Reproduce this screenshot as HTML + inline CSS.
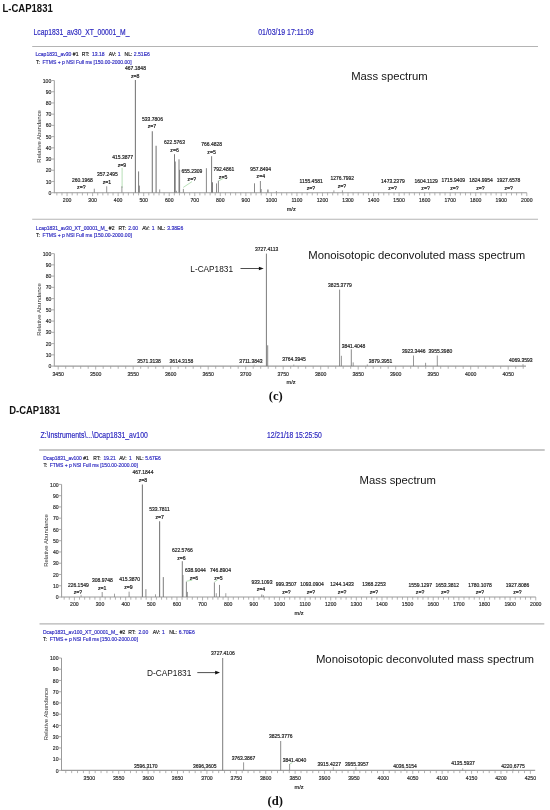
<!DOCTYPE html>
<html><head><meta charset="utf-8"><title>CAP1831 mass spectra</title>
<style>
html,body{margin:0;padding:0;background:#fff;width:550px;height:810px;overflow:hidden;}
svg{display:block;will-change:transform;font-family:"Liberation Sans",sans-serif;}
</style></head><body>
<svg width="550" height="810" viewBox="0 0 550 810">
<rect width="550" height="810" fill="#fff"/>
<text x="2.40" y="11.50" font-size="10.2" fill="#111" textLength="50.40" lengthAdjust="spacingAndGlyphs" font-weight="bold">L-CAP1831</text>
<text x="33.60" y="35.00" font-size="9.3" fill="#2e2ac0" textLength="95.80" lengthAdjust="spacingAndGlyphs" stroke="#2e2ac0" stroke-width="0.2">Lcap1831_av30_XT_00001_M_</text>
<text x="258.20" y="34.60" font-size="9.2" fill="#2e2ac0" textLength="55.40" lengthAdjust="spacingAndGlyphs" stroke="#2e2ac0" stroke-width="0.2">01/03/19 17:11:09</text>
<line x1="32.20" y1="46.50" x2="538.00" y2="46.50" stroke="#b4b4b4" stroke-width="1.1"/>
<text x="35.45" y="56.40" font-size="5.9" fill="#2e2ac0" textLength="36.00" lengthAdjust="spacingAndGlyphs" stroke="#2e2ac0" stroke-width="0.18">Lcap1831_av30</text>
<text x="72.85" y="56.40" font-size="5.9" fill="#1a1a1a" textLength="5.63" lengthAdjust="spacingAndGlyphs" stroke="#1a1a1a" stroke-width="0.18">#1</text>
<text x="81.85" y="56.40" font-size="5.9" fill="#1a1a1a" textLength="7.50" lengthAdjust="spacingAndGlyphs" stroke="#1a1a1a" stroke-width="0.18">RT:</text>
<text x="91.95" y="56.40" font-size="5.9" fill="#2e2ac0" textLength="12.66" lengthAdjust="spacingAndGlyphs" stroke="#2e2ac0" stroke-width="0.18">13.18</text>
<text x="108.85" y="56.40" font-size="5.9" fill="#1a1a1a" textLength="7.59" lengthAdjust="spacingAndGlyphs" stroke="#1a1a1a" stroke-width="0.18">AV:</text>
<text x="117.85" y="56.40" font-size="5.9" fill="#2e2ac0" textLength="2.81" lengthAdjust="spacingAndGlyphs" stroke="#2e2ac0" stroke-width="0.18">1</text>
<text x="124.55" y="56.40" font-size="5.9" fill="#1a1a1a" textLength="7.87" lengthAdjust="spacingAndGlyphs" stroke="#1a1a1a" stroke-width="0.18">NL:</text>
<text x="133.85" y="56.40" font-size="5.9" fill="#2e2ac0" textLength="16.03" lengthAdjust="spacingAndGlyphs" stroke="#2e2ac0" stroke-width="0.18">2.51E6</text>
<text x="36.00" y="63.60" font-size="5.9" fill="#1a1a1a" textLength="3.93" lengthAdjust="spacingAndGlyphs" stroke="#1a1a1a" stroke-width="0.18">T:</text>
<text x="42.55" y="63.60" font-size="5.9" fill="#2e2ac0" textLength="89.00" lengthAdjust="spacingAndGlyphs" stroke="#2e2ac0" stroke-width="0.18">FTMS + p NSI Full ms [150.00-2000.00]</text>
<text x="351.20" y="80.00" font-size="11.3" fill="#141414" textLength="76.50" lengthAdjust="spacingAndGlyphs">Mass spectrum</text>
<line x1="54.30" y1="80.50" x2="54.30" y2="193.20" stroke="#9a9a9a" stroke-width="1"/>
<line x1="51.70" y1="192.70" x2="54.30" y2="192.70" stroke="#9a9a9a" stroke-width="0.8"/>
<text x="51.30" y="194.80" font-size="5.9" fill="#2a2a2a" text-anchor="end" textLength="2.84" lengthAdjust="spacingAndGlyphs" stroke="#2a2a2a" stroke-width="0.18">0</text>
<line x1="51.70" y1="181.48" x2="54.30" y2="181.48" stroke="#9a9a9a" stroke-width="0.8"/>
<text x="51.30" y="183.58" font-size="5.9" fill="#2a2a2a" text-anchor="end" textLength="5.67" lengthAdjust="spacingAndGlyphs" stroke="#2a2a2a" stroke-width="0.18">10</text>
<line x1="51.70" y1="170.26" x2="54.30" y2="170.26" stroke="#9a9a9a" stroke-width="0.8"/>
<text x="51.30" y="172.36" font-size="5.9" fill="#2a2a2a" text-anchor="end" textLength="5.67" lengthAdjust="spacingAndGlyphs" stroke="#2a2a2a" stroke-width="0.18">20</text>
<line x1="51.70" y1="159.04" x2="54.30" y2="159.04" stroke="#9a9a9a" stroke-width="0.8"/>
<text x="51.30" y="161.14" font-size="5.9" fill="#2a2a2a" text-anchor="end" textLength="5.67" lengthAdjust="spacingAndGlyphs" stroke="#2a2a2a" stroke-width="0.18">30</text>
<line x1="51.70" y1="147.82" x2="54.30" y2="147.82" stroke="#9a9a9a" stroke-width="0.8"/>
<text x="51.30" y="149.92" font-size="5.9" fill="#2a2a2a" text-anchor="end" textLength="5.67" lengthAdjust="spacingAndGlyphs" stroke="#2a2a2a" stroke-width="0.18">40</text>
<line x1="51.70" y1="136.60" x2="54.30" y2="136.60" stroke="#9a9a9a" stroke-width="0.8"/>
<text x="51.30" y="138.70" font-size="5.9" fill="#2a2a2a" text-anchor="end" textLength="5.67" lengthAdjust="spacingAndGlyphs" stroke="#2a2a2a" stroke-width="0.18">50</text>
<line x1="51.70" y1="125.38" x2="54.30" y2="125.38" stroke="#9a9a9a" stroke-width="0.8"/>
<text x="51.30" y="127.48" font-size="5.9" fill="#2a2a2a" text-anchor="end" textLength="5.67" lengthAdjust="spacingAndGlyphs" stroke="#2a2a2a" stroke-width="0.18">60</text>
<line x1="51.70" y1="114.16" x2="54.30" y2="114.16" stroke="#9a9a9a" stroke-width="0.8"/>
<text x="51.30" y="116.26" font-size="5.9" fill="#2a2a2a" text-anchor="end" textLength="5.67" lengthAdjust="spacingAndGlyphs" stroke="#2a2a2a" stroke-width="0.18">70</text>
<line x1="51.70" y1="102.94" x2="54.30" y2="102.94" stroke="#9a9a9a" stroke-width="0.8"/>
<text x="51.30" y="105.04" font-size="5.9" fill="#2a2a2a" text-anchor="end" textLength="5.67" lengthAdjust="spacingAndGlyphs" stroke="#2a2a2a" stroke-width="0.18">80</text>
<line x1="51.70" y1="91.72" x2="54.30" y2="91.72" stroke="#9a9a9a" stroke-width="0.8"/>
<text x="51.30" y="93.82" font-size="5.9" fill="#2a2a2a" text-anchor="end" textLength="5.67" lengthAdjust="spacingAndGlyphs" stroke="#2a2a2a" stroke-width="0.18">90</text>
<line x1="51.70" y1="80.50" x2="54.30" y2="80.50" stroke="#9a9a9a" stroke-width="0.8"/>
<text x="51.30" y="82.60" font-size="5.9" fill="#2a2a2a" text-anchor="end" textLength="8.51" lengthAdjust="spacingAndGlyphs" stroke="#2a2a2a" stroke-width="0.18">100</text>
<line x1="54.30" y1="192.70" x2="526.80" y2="192.70" stroke="#9a9a9a" stroke-width="1.1"/>
<line x1="56.85" y1="192.70" x2="56.85" y2="195.40" stroke="#9a9a9a" stroke-width="0.75"/>
<line x1="61.96" y1="192.70" x2="61.96" y2="195.40" stroke="#9a9a9a" stroke-width="0.75"/>
<line x1="67.07" y1="192.70" x2="67.07" y2="196.10" stroke="#9a9a9a" stroke-width="0.75"/>
<line x1="72.18" y1="192.70" x2="72.18" y2="195.40" stroke="#9a9a9a" stroke-width="0.75"/>
<line x1="77.29" y1="192.70" x2="77.29" y2="195.40" stroke="#9a9a9a" stroke-width="0.75"/>
<line x1="82.39" y1="192.70" x2="82.39" y2="195.40" stroke="#9a9a9a" stroke-width="0.75"/>
<line x1="87.50" y1="192.70" x2="87.50" y2="195.40" stroke="#9a9a9a" stroke-width="0.75"/>
<line x1="92.61" y1="192.70" x2="92.61" y2="196.10" stroke="#9a9a9a" stroke-width="0.75"/>
<line x1="97.72" y1="192.70" x2="97.72" y2="195.40" stroke="#9a9a9a" stroke-width="0.75"/>
<line x1="102.83" y1="192.70" x2="102.83" y2="195.40" stroke="#9a9a9a" stroke-width="0.75"/>
<line x1="107.94" y1="192.70" x2="107.94" y2="195.40" stroke="#9a9a9a" stroke-width="0.75"/>
<line x1="113.04" y1="192.70" x2="113.04" y2="195.40" stroke="#9a9a9a" stroke-width="0.75"/>
<line x1="118.15" y1="192.70" x2="118.15" y2="196.10" stroke="#9a9a9a" stroke-width="0.75"/>
<line x1="123.26" y1="192.70" x2="123.26" y2="195.40" stroke="#9a9a9a" stroke-width="0.75"/>
<line x1="128.37" y1="192.70" x2="128.37" y2="195.40" stroke="#9a9a9a" stroke-width="0.75"/>
<line x1="133.48" y1="192.70" x2="133.48" y2="195.40" stroke="#9a9a9a" stroke-width="0.75"/>
<line x1="138.58" y1="192.70" x2="138.58" y2="195.40" stroke="#9a9a9a" stroke-width="0.75"/>
<line x1="143.69" y1="192.70" x2="143.69" y2="196.10" stroke="#9a9a9a" stroke-width="0.75"/>
<line x1="148.80" y1="192.70" x2="148.80" y2="195.40" stroke="#9a9a9a" stroke-width="0.75"/>
<line x1="153.91" y1="192.70" x2="153.91" y2="195.40" stroke="#9a9a9a" stroke-width="0.75"/>
<line x1="159.02" y1="192.70" x2="159.02" y2="195.40" stroke="#9a9a9a" stroke-width="0.75"/>
<line x1="164.12" y1="192.70" x2="164.12" y2="195.40" stroke="#9a9a9a" stroke-width="0.75"/>
<line x1="169.23" y1="192.70" x2="169.23" y2="196.10" stroke="#9a9a9a" stroke-width="0.75"/>
<line x1="174.34" y1="192.70" x2="174.34" y2="195.40" stroke="#9a9a9a" stroke-width="0.75"/>
<line x1="179.45" y1="192.70" x2="179.45" y2="195.40" stroke="#9a9a9a" stroke-width="0.75"/>
<line x1="184.56" y1="192.70" x2="184.56" y2="195.40" stroke="#9a9a9a" stroke-width="0.75"/>
<line x1="189.66" y1="192.70" x2="189.66" y2="195.40" stroke="#9a9a9a" stroke-width="0.75"/>
<line x1="194.77" y1="192.70" x2="194.77" y2="196.10" stroke="#9a9a9a" stroke-width="0.75"/>
<line x1="199.88" y1="192.70" x2="199.88" y2="195.40" stroke="#9a9a9a" stroke-width="0.75"/>
<line x1="204.99" y1="192.70" x2="204.99" y2="195.40" stroke="#9a9a9a" stroke-width="0.75"/>
<line x1="210.10" y1="192.70" x2="210.10" y2="195.40" stroke="#9a9a9a" stroke-width="0.75"/>
<line x1="215.21" y1="192.70" x2="215.21" y2="195.40" stroke="#9a9a9a" stroke-width="0.75"/>
<line x1="220.31" y1="192.70" x2="220.31" y2="196.10" stroke="#9a9a9a" stroke-width="0.75"/>
<line x1="225.42" y1="192.70" x2="225.42" y2="195.40" stroke="#9a9a9a" stroke-width="0.75"/>
<line x1="230.53" y1="192.70" x2="230.53" y2="195.40" stroke="#9a9a9a" stroke-width="0.75"/>
<line x1="235.64" y1="192.70" x2="235.64" y2="195.40" stroke="#9a9a9a" stroke-width="0.75"/>
<line x1="240.75" y1="192.70" x2="240.75" y2="195.40" stroke="#9a9a9a" stroke-width="0.75"/>
<line x1="245.85" y1="192.70" x2="245.85" y2="196.10" stroke="#9a9a9a" stroke-width="0.75"/>
<line x1="250.96" y1="192.70" x2="250.96" y2="195.40" stroke="#9a9a9a" stroke-width="0.75"/>
<line x1="256.07" y1="192.70" x2="256.07" y2="195.40" stroke="#9a9a9a" stroke-width="0.75"/>
<line x1="261.18" y1="192.70" x2="261.18" y2="195.40" stroke="#9a9a9a" stroke-width="0.75"/>
<line x1="266.29" y1="192.70" x2="266.29" y2="195.40" stroke="#9a9a9a" stroke-width="0.75"/>
<line x1="271.39" y1="192.70" x2="271.39" y2="196.10" stroke="#9a9a9a" stroke-width="0.75"/>
<line x1="276.50" y1="192.70" x2="276.50" y2="195.40" stroke="#9a9a9a" stroke-width="0.75"/>
<line x1="281.61" y1="192.70" x2="281.61" y2="195.40" stroke="#9a9a9a" stroke-width="0.75"/>
<line x1="286.72" y1="192.70" x2="286.72" y2="195.40" stroke="#9a9a9a" stroke-width="0.75"/>
<line x1="291.83" y1="192.70" x2="291.83" y2="195.40" stroke="#9a9a9a" stroke-width="0.75"/>
<line x1="296.94" y1="192.70" x2="296.94" y2="196.10" stroke="#9a9a9a" stroke-width="0.75"/>
<line x1="302.04" y1="192.70" x2="302.04" y2="195.40" stroke="#9a9a9a" stroke-width="0.75"/>
<line x1="307.15" y1="192.70" x2="307.15" y2="195.40" stroke="#9a9a9a" stroke-width="0.75"/>
<line x1="312.26" y1="192.70" x2="312.26" y2="195.40" stroke="#9a9a9a" stroke-width="0.75"/>
<line x1="317.37" y1="192.70" x2="317.37" y2="195.40" stroke="#9a9a9a" stroke-width="0.75"/>
<line x1="322.48" y1="192.70" x2="322.48" y2="196.10" stroke="#9a9a9a" stroke-width="0.75"/>
<line x1="327.58" y1="192.70" x2="327.58" y2="195.40" stroke="#9a9a9a" stroke-width="0.75"/>
<line x1="332.69" y1="192.70" x2="332.69" y2="195.40" stroke="#9a9a9a" stroke-width="0.75"/>
<line x1="337.80" y1="192.70" x2="337.80" y2="195.40" stroke="#9a9a9a" stroke-width="0.75"/>
<line x1="342.91" y1="192.70" x2="342.91" y2="195.40" stroke="#9a9a9a" stroke-width="0.75"/>
<line x1="348.02" y1="192.70" x2="348.02" y2="196.10" stroke="#9a9a9a" stroke-width="0.75"/>
<line x1="353.12" y1="192.70" x2="353.12" y2="195.40" stroke="#9a9a9a" stroke-width="0.75"/>
<line x1="358.23" y1="192.70" x2="358.23" y2="195.40" stroke="#9a9a9a" stroke-width="0.75"/>
<line x1="363.34" y1="192.70" x2="363.34" y2="195.40" stroke="#9a9a9a" stroke-width="0.75"/>
<line x1="368.45" y1="192.70" x2="368.45" y2="195.40" stroke="#9a9a9a" stroke-width="0.75"/>
<line x1="373.56" y1="192.70" x2="373.56" y2="196.10" stroke="#9a9a9a" stroke-width="0.75"/>
<line x1="378.66" y1="192.70" x2="378.66" y2="195.40" stroke="#9a9a9a" stroke-width="0.75"/>
<line x1="383.77" y1="192.70" x2="383.77" y2="195.40" stroke="#9a9a9a" stroke-width="0.75"/>
<line x1="388.88" y1="192.70" x2="388.88" y2="195.40" stroke="#9a9a9a" stroke-width="0.75"/>
<line x1="393.99" y1="192.70" x2="393.99" y2="195.40" stroke="#9a9a9a" stroke-width="0.75"/>
<line x1="399.10" y1="192.70" x2="399.10" y2="196.10" stroke="#9a9a9a" stroke-width="0.75"/>
<line x1="404.21" y1="192.70" x2="404.21" y2="195.40" stroke="#9a9a9a" stroke-width="0.75"/>
<line x1="409.31" y1="192.70" x2="409.31" y2="195.40" stroke="#9a9a9a" stroke-width="0.75"/>
<line x1="414.42" y1="192.70" x2="414.42" y2="195.40" stroke="#9a9a9a" stroke-width="0.75"/>
<line x1="419.53" y1="192.70" x2="419.53" y2="195.40" stroke="#9a9a9a" stroke-width="0.75"/>
<line x1="424.64" y1="192.70" x2="424.64" y2="196.10" stroke="#9a9a9a" stroke-width="0.75"/>
<line x1="429.75" y1="192.70" x2="429.75" y2="195.40" stroke="#9a9a9a" stroke-width="0.75"/>
<line x1="434.85" y1="192.70" x2="434.85" y2="195.40" stroke="#9a9a9a" stroke-width="0.75"/>
<line x1="439.96" y1="192.70" x2="439.96" y2="195.40" stroke="#9a9a9a" stroke-width="0.75"/>
<line x1="445.07" y1="192.70" x2="445.07" y2="195.40" stroke="#9a9a9a" stroke-width="0.75"/>
<line x1="450.18" y1="192.70" x2="450.18" y2="196.10" stroke="#9a9a9a" stroke-width="0.75"/>
<line x1="455.29" y1="192.70" x2="455.29" y2="195.40" stroke="#9a9a9a" stroke-width="0.75"/>
<line x1="460.39" y1="192.70" x2="460.39" y2="195.40" stroke="#9a9a9a" stroke-width="0.75"/>
<line x1="465.50" y1="192.70" x2="465.50" y2="195.40" stroke="#9a9a9a" stroke-width="0.75"/>
<line x1="470.61" y1="192.70" x2="470.61" y2="195.40" stroke="#9a9a9a" stroke-width="0.75"/>
<line x1="475.72" y1="192.70" x2="475.72" y2="196.10" stroke="#9a9a9a" stroke-width="0.75"/>
<line x1="480.83" y1="192.70" x2="480.83" y2="195.40" stroke="#9a9a9a" stroke-width="0.75"/>
<line x1="485.94" y1="192.70" x2="485.94" y2="195.40" stroke="#9a9a9a" stroke-width="0.75"/>
<line x1="491.04" y1="192.70" x2="491.04" y2="195.40" stroke="#9a9a9a" stroke-width="0.75"/>
<line x1="496.15" y1="192.70" x2="496.15" y2="195.40" stroke="#9a9a9a" stroke-width="0.75"/>
<line x1="501.26" y1="192.70" x2="501.26" y2="196.10" stroke="#9a9a9a" stroke-width="0.75"/>
<line x1="506.37" y1="192.70" x2="506.37" y2="195.40" stroke="#9a9a9a" stroke-width="0.75"/>
<line x1="511.48" y1="192.70" x2="511.48" y2="195.40" stroke="#9a9a9a" stroke-width="0.75"/>
<line x1="516.58" y1="192.70" x2="516.58" y2="195.40" stroke="#9a9a9a" stroke-width="0.75"/>
<line x1="521.69" y1="192.70" x2="521.69" y2="195.40" stroke="#9a9a9a" stroke-width="0.75"/>
<line x1="526.80" y1="192.70" x2="526.80" y2="196.10" stroke="#9a9a9a" stroke-width="0.75"/>
<text x="67.07" y="202.30" font-size="5.9" fill="#2a2a2a" text-anchor="middle" textLength="8.59" lengthAdjust="spacingAndGlyphs" stroke="#2a2a2a" stroke-width="0.18">200</text>
<text x="92.61" y="202.30" font-size="5.9" fill="#2a2a2a" text-anchor="middle" textLength="8.59" lengthAdjust="spacingAndGlyphs" stroke="#2a2a2a" stroke-width="0.18">300</text>
<text x="118.15" y="202.30" font-size="5.9" fill="#2a2a2a" text-anchor="middle" textLength="8.59" lengthAdjust="spacingAndGlyphs" stroke="#2a2a2a" stroke-width="0.18">400</text>
<text x="143.69" y="202.30" font-size="5.9" fill="#2a2a2a" text-anchor="middle" textLength="8.59" lengthAdjust="spacingAndGlyphs" stroke="#2a2a2a" stroke-width="0.18">500</text>
<text x="169.23" y="202.30" font-size="5.9" fill="#2a2a2a" text-anchor="middle" textLength="8.59" lengthAdjust="spacingAndGlyphs" stroke="#2a2a2a" stroke-width="0.18">600</text>
<text x="194.77" y="202.30" font-size="5.9" fill="#2a2a2a" text-anchor="middle" textLength="8.59" lengthAdjust="spacingAndGlyphs" stroke="#2a2a2a" stroke-width="0.18">700</text>
<text x="220.31" y="202.30" font-size="5.9" fill="#2a2a2a" text-anchor="middle" textLength="8.59" lengthAdjust="spacingAndGlyphs" stroke="#2a2a2a" stroke-width="0.18">800</text>
<text x="245.85" y="202.30" font-size="5.9" fill="#2a2a2a" text-anchor="middle" textLength="8.59" lengthAdjust="spacingAndGlyphs" stroke="#2a2a2a" stroke-width="0.18">900</text>
<text x="271.39" y="202.30" font-size="5.9" fill="#2a2a2a" text-anchor="middle" textLength="11.46" lengthAdjust="spacingAndGlyphs" stroke="#2a2a2a" stroke-width="0.18">1000</text>
<text x="296.94" y="202.30" font-size="5.9" fill="#2a2a2a" text-anchor="middle" textLength="11.07" lengthAdjust="spacingAndGlyphs" stroke="#2a2a2a" stroke-width="0.18">1100</text>
<text x="322.48" y="202.30" font-size="5.9" fill="#2a2a2a" text-anchor="middle" textLength="11.46" lengthAdjust="spacingAndGlyphs" stroke="#2a2a2a" stroke-width="0.18">1200</text>
<text x="348.02" y="202.30" font-size="5.9" fill="#2a2a2a" text-anchor="middle" textLength="11.46" lengthAdjust="spacingAndGlyphs" stroke="#2a2a2a" stroke-width="0.18">1300</text>
<text x="373.56" y="202.30" font-size="5.9" fill="#2a2a2a" text-anchor="middle" textLength="11.46" lengthAdjust="spacingAndGlyphs" stroke="#2a2a2a" stroke-width="0.18">1400</text>
<text x="399.10" y="202.30" font-size="5.9" fill="#2a2a2a" text-anchor="middle" textLength="11.46" lengthAdjust="spacingAndGlyphs" stroke="#2a2a2a" stroke-width="0.18">1500</text>
<text x="424.64" y="202.30" font-size="5.9" fill="#2a2a2a" text-anchor="middle" textLength="11.46" lengthAdjust="spacingAndGlyphs" stroke="#2a2a2a" stroke-width="0.18">1600</text>
<text x="450.18" y="202.30" font-size="5.9" fill="#2a2a2a" text-anchor="middle" textLength="11.46" lengthAdjust="spacingAndGlyphs" stroke="#2a2a2a" stroke-width="0.18">1700</text>
<text x="475.72" y="202.30" font-size="5.9" fill="#2a2a2a" text-anchor="middle" textLength="11.46" lengthAdjust="spacingAndGlyphs" stroke="#2a2a2a" stroke-width="0.18">1800</text>
<text x="501.26" y="202.30" font-size="5.9" fill="#2a2a2a" text-anchor="middle" textLength="11.46" lengthAdjust="spacingAndGlyphs" stroke="#2a2a2a" stroke-width="0.18">1900</text>
<text x="526.80" y="202.30" font-size="5.9" fill="#2a2a2a" text-anchor="middle" textLength="11.46" lengthAdjust="spacingAndGlyphs" stroke="#2a2a2a" stroke-width="0.18">2000</text>
<text x="291.20" y="211.20" font-size="5.6" fill="#222" text-anchor="middle" stroke="#222" stroke-width="0.18">m/z</text>
<text x="0" y="0" font-size="5.9" fill="#333" text-anchor="middle" textLength="52.5" lengthAdjust="spacingAndGlyphs" transform="translate(41.20,136.40) rotate(-90)">Relative Abundance</text>
<line x1="122.10" y1="167.80" x2="122.10" y2="188.00" stroke="#a6d8a6" stroke-width="0.8"/>
<line x1="183.30" y1="187.40" x2="192.00" y2="181.60" stroke="#a6d8a6" stroke-width="0.8"/>
<line x1="218.50" y1="181.00" x2="223.60" y2="178.20" stroke="#a6d8a6" stroke-width="0.8"/>
<line x1="94.30" y1="188.70" x2="94.30" y2="192.70" stroke="#7c7c7c" stroke-width="0.8"/>
<line x1="106.70" y1="186.30" x2="106.70" y2="192.70" stroke="#7c7c7c" stroke-width="0.8"/>
<line x1="121.90" y1="186.30" x2="121.90" y2="192.70" stroke="#7c7c7c" stroke-width="0.8"/>
<line x1="135.40" y1="80.00" x2="135.40" y2="192.70" stroke="#7c7c7c" stroke-width="1.1"/>
<line x1="138.60" y1="171.40" x2="138.60" y2="192.70" stroke="#7c7c7c" stroke-width="1.0"/>
<line x1="139.30" y1="185.60" x2="139.30" y2="192.70" stroke="#7c7c7c" stroke-width="1.0"/>
<line x1="152.30" y1="131.20" x2="152.30" y2="192.70" stroke="#7c7c7c" stroke-width="1.1"/>
<line x1="156.10" y1="145.80" x2="156.10" y2="192.70" stroke="#7c7c7c" stroke-width="1.1"/>
<line x1="159.70" y1="189.40" x2="159.70" y2="192.70" stroke="#7c7c7c" stroke-width="0.8"/>
<line x1="174.50" y1="154.20" x2="174.50" y2="192.70" stroke="#7c7c7c" stroke-width="1.0"/>
<line x1="175.20" y1="161.50" x2="175.20" y2="192.70" stroke="#7c7c7c" stroke-width="1.0"/>
<line x1="176.50" y1="190.80" x2="176.50" y2="192.70" stroke="#7c7c7c" stroke-width="0.7"/>
<line x1="179.00" y1="159.30" x2="179.00" y2="192.70" stroke="#7c7c7c" stroke-width="1.0"/>
<line x1="179.60" y1="169.80" x2="179.60" y2="192.70" stroke="#7c7c7c" stroke-width="1.0"/>
<line x1="183.40" y1="188.90" x2="183.40" y2="192.70" stroke="#7c7c7c" stroke-width="0.8"/>
<line x1="206.40" y1="168.20" x2="206.40" y2="192.70" stroke="#7c7c7c" stroke-width="0.9"/>
<line x1="211.60" y1="156.20" x2="211.60" y2="192.70" stroke="#7c7c7c" stroke-width="1.0"/>
<line x1="212.40" y1="182.30" x2="212.40" y2="192.70" stroke="#7c7c7c" stroke-width="1.2"/>
<line x1="216.50" y1="183.40" x2="216.50" y2="192.70" stroke="#7c7c7c" stroke-width="0.9"/>
<line x1="218.40" y1="180.70" x2="218.40" y2="192.70" stroke="#7c7c7c" stroke-width="0.9"/>
<line x1="254.50" y1="183.30" x2="254.50" y2="192.70" stroke="#7c7c7c" stroke-width="0.9"/>
<line x1="260.40" y1="181.00" x2="260.40" y2="192.70" stroke="#7c7c7c" stroke-width="0.9"/>
<line x1="261.20" y1="189.00" x2="261.20" y2="192.70" stroke="#7c7c7c" stroke-width="0.8"/>
<line x1="267.90" y1="189.60" x2="267.90" y2="192.70" stroke="#7c7c7c" stroke-width="1.2"/>
<line x1="276.40" y1="191.00" x2="276.40" y2="192.70" stroke="#7c7c7c" stroke-width="0.7"/>
<line x1="333.90" y1="190.30" x2="333.90" y2="192.70" stroke="#7c7c7c" stroke-width="0.7"/>
<line x1="342.40" y1="190.30" x2="342.40" y2="192.70" stroke="#7c7c7c" stroke-width="0.7"/>
<text x="82.40" y="182.10" font-size="5.2" fill="#222" text-anchor="middle" textLength="20.85" lengthAdjust="spacingAndGlyphs" stroke="#222" stroke-width="0.18">260.1968</text>
<text x="81.30" y="189.30" font-size="5.2" fill="#222" text-anchor="middle" stroke="#222" stroke-width="0.18">z=?</text>
<text x="107.30" y="176.40" font-size="5.2" fill="#222" text-anchor="middle" textLength="20.85" lengthAdjust="spacingAndGlyphs" stroke="#222" stroke-width="0.18">357.2495</text>
<text x="107.00" y="183.80" font-size="5.2" fill="#222" text-anchor="middle" stroke="#222" stroke-width="0.18">z=1</text>
<text x="122.60" y="159.20" font-size="5.2" fill="#222" text-anchor="middle" textLength="20.85" lengthAdjust="spacingAndGlyphs" stroke="#222" stroke-width="0.18">415.3877</text>
<text x="122.00" y="166.70" font-size="5.2" fill="#222" text-anchor="middle" stroke="#222" stroke-width="0.18">z=9</text>
<text x="135.50" y="70.20" font-size="5.2" fill="#222" text-anchor="middle" textLength="20.85" lengthAdjust="spacingAndGlyphs" stroke="#222" stroke-width="0.18">467.1848</text>
<text x="135.20" y="78.20" font-size="5.2" fill="#222" text-anchor="middle" stroke="#222" stroke-width="0.18">z=8</text>
<text x="152.50" y="120.90" font-size="5.2" fill="#222" text-anchor="middle" textLength="20.85" lengthAdjust="spacingAndGlyphs" stroke="#222" stroke-width="0.18">533.7806</text>
<text x="152.00" y="128.20" font-size="5.2" fill="#222" text-anchor="middle" stroke="#222" stroke-width="0.18">z=7</text>
<text x="174.50" y="144.30" font-size="5.2" fill="#222" text-anchor="middle" textLength="20.85" lengthAdjust="spacingAndGlyphs" stroke="#222" stroke-width="0.18">622.5763</text>
<text x="174.60" y="152.20" font-size="5.2" fill="#222" text-anchor="middle" stroke="#222" stroke-width="0.18">z=6</text>
<text x="191.90" y="173.00" font-size="5.2" fill="#222" text-anchor="middle" textLength="20.85" lengthAdjust="spacingAndGlyphs" stroke="#222" stroke-width="0.18">655.2309</text>
<text x="191.80" y="180.80" font-size="5.2" fill="#222" text-anchor="middle" stroke="#222" stroke-width="0.18">z=?</text>
<text x="211.70" y="146.00" font-size="5.2" fill="#222" text-anchor="middle" textLength="20.85" lengthAdjust="spacingAndGlyphs" stroke="#222" stroke-width="0.18">766.4828</text>
<text x="211.60" y="153.60" font-size="5.2" fill="#222" text-anchor="middle" stroke="#222" stroke-width="0.18">z=5</text>
<text x="223.80" y="170.80" font-size="5.2" fill="#222" text-anchor="middle" textLength="20.85" lengthAdjust="spacingAndGlyphs" stroke="#222" stroke-width="0.18">792.4861</text>
<text x="223.10" y="178.70" font-size="5.2" fill="#222" text-anchor="middle" stroke="#222" stroke-width="0.18">z=5</text>
<text x="260.70" y="171.10" font-size="5.2" fill="#222" text-anchor="middle" textLength="20.85" lengthAdjust="spacingAndGlyphs" stroke="#222" stroke-width="0.18">957.8494</text>
<text x="260.80" y="178.40" font-size="5.2" fill="#222" text-anchor="middle" stroke="#222" stroke-width="0.18">z=4</text>
<text x="311.10" y="182.50" font-size="5.2" fill="#222" text-anchor="middle" textLength="23.26" lengthAdjust="spacingAndGlyphs" stroke="#222" stroke-width="0.18">1155.4581</text>
<text x="311.00" y="189.80" font-size="5.2" fill="#222" text-anchor="middle" stroke="#222" stroke-width="0.18">z=?</text>
<text x="342.20" y="179.70" font-size="5.2" fill="#222" text-anchor="middle" textLength="23.63" lengthAdjust="spacingAndGlyphs" stroke="#222" stroke-width="0.18">1276.7992</text>
<text x="342.00" y="187.60" font-size="5.2" fill="#222" text-anchor="middle" stroke="#222" stroke-width="0.18">z=?</text>
<text x="392.90" y="182.50" font-size="5.2" fill="#222" text-anchor="middle" textLength="23.63" lengthAdjust="spacingAndGlyphs" stroke="#222" stroke-width="0.18">1473.2379</text>
<text x="392.60" y="189.80" font-size="5.2" fill="#222" text-anchor="middle" stroke="#222" stroke-width="0.18">z=?</text>
<text x="426.20" y="182.70" font-size="5.2" fill="#222" text-anchor="middle" textLength="23.26" lengthAdjust="spacingAndGlyphs" stroke="#222" stroke-width="0.18">1604.1129</text>
<text x="425.60" y="190.00" font-size="5.2" fill="#222" text-anchor="middle" stroke="#222" stroke-width="0.18">z=?</text>
<text x="453.20" y="182.30" font-size="5.2" fill="#222" text-anchor="middle" textLength="23.63" lengthAdjust="spacingAndGlyphs" stroke="#222" stroke-width="0.18">1715.9409</text>
<text x="454.50" y="190.20" font-size="5.2" fill="#222" text-anchor="middle" stroke="#222" stroke-width="0.18">z=?</text>
<text x="481.10" y="182.30" font-size="5.2" fill="#222" text-anchor="middle" textLength="23.63" lengthAdjust="spacingAndGlyphs" stroke="#222" stroke-width="0.18">1824.9954</text>
<text x="480.40" y="190.20" font-size="5.2" fill="#222" text-anchor="middle" stroke="#222" stroke-width="0.18">z=?</text>
<text x="508.60" y="182.30" font-size="5.2" fill="#222" text-anchor="middle" textLength="23.63" lengthAdjust="spacingAndGlyphs" stroke="#222" stroke-width="0.18">1927.6578</text>
<text x="508.70" y="190.20" font-size="5.2" fill="#222" text-anchor="middle" stroke="#222" stroke-width="0.18">z=?</text>
<line x1="32.20" y1="219.30" x2="538.00" y2="219.30" stroke="#b4b4b4" stroke-width="1.1"/>
<text x="35.85" y="229.50" font-size="5.9" fill="#2e2ac0" textLength="71.70" lengthAdjust="spacingAndGlyphs" stroke="#2e2ac0" stroke-width="0.18">Lcap1831_av30_XT_00001_M_</text>
<text x="108.85" y="229.50" font-size="5.9" fill="#1a1a1a" textLength="5.60" lengthAdjust="spacingAndGlyphs" stroke="#1a1a1a" stroke-width="0.18">#2</text>
<text x="118.55" y="229.50" font-size="5.9" fill="#1a1a1a" textLength="7.47" lengthAdjust="spacingAndGlyphs" stroke="#1a1a1a" stroke-width="0.18">RT:</text>
<text x="128.25" y="229.50" font-size="5.9" fill="#2e2ac0" textLength="9.80" lengthAdjust="spacingAndGlyphs" stroke="#2e2ac0" stroke-width="0.18">2.00</text>
<text x="142.15" y="229.50" font-size="5.9" fill="#1a1a1a" textLength="7.56" lengthAdjust="spacingAndGlyphs" stroke="#1a1a1a" stroke-width="0.18">AV:</text>
<text x="151.65" y="229.50" font-size="5.9" fill="#2e2ac0" textLength="2.80" lengthAdjust="spacingAndGlyphs" stroke="#2e2ac0" stroke-width="0.18">1</text>
<text x="157.45" y="229.50" font-size="5.9" fill="#1a1a1a" textLength="7.84" lengthAdjust="spacingAndGlyphs" stroke="#1a1a1a" stroke-width="0.18">NL:</text>
<text x="167.25" y="229.50" font-size="5.9" fill="#2e2ac0" textLength="15.97" lengthAdjust="spacingAndGlyphs" stroke="#2e2ac0" stroke-width="0.18">3.38E6</text>
<text x="36.00" y="236.50" font-size="5.9" fill="#1a1a1a" textLength="3.92" lengthAdjust="spacingAndGlyphs" stroke="#1a1a1a" stroke-width="0.18">T:</text>
<text x="42.55" y="236.50" font-size="5.9" fill="#2e2ac0" textLength="89.30" lengthAdjust="spacingAndGlyphs" stroke="#2e2ac0" stroke-width="0.18">FTMS + p NSI Full ms [150.00-2000.00]</text>
<line x1="54.30" y1="253.60" x2="54.30" y2="366.60" stroke="#9a9a9a" stroke-width="1"/>
<line x1="51.70" y1="366.10" x2="54.30" y2="366.10" stroke="#9a9a9a" stroke-width="0.8"/>
<text x="51.30" y="368.20" font-size="5.9" fill="#2a2a2a" text-anchor="end" textLength="2.84" lengthAdjust="spacingAndGlyphs" stroke="#2a2a2a" stroke-width="0.18">0</text>
<line x1="51.70" y1="354.85" x2="54.30" y2="354.85" stroke="#9a9a9a" stroke-width="0.8"/>
<text x="51.30" y="356.95" font-size="5.9" fill="#2a2a2a" text-anchor="end" textLength="5.67" lengthAdjust="spacingAndGlyphs" stroke="#2a2a2a" stroke-width="0.18">10</text>
<line x1="51.70" y1="343.60" x2="54.30" y2="343.60" stroke="#9a9a9a" stroke-width="0.8"/>
<text x="51.30" y="345.70" font-size="5.9" fill="#2a2a2a" text-anchor="end" textLength="5.67" lengthAdjust="spacingAndGlyphs" stroke="#2a2a2a" stroke-width="0.18">20</text>
<line x1="51.70" y1="332.35" x2="54.30" y2="332.35" stroke="#9a9a9a" stroke-width="0.8"/>
<text x="51.30" y="334.45" font-size="5.9" fill="#2a2a2a" text-anchor="end" textLength="5.67" lengthAdjust="spacingAndGlyphs" stroke="#2a2a2a" stroke-width="0.18">30</text>
<line x1="51.70" y1="321.10" x2="54.30" y2="321.10" stroke="#9a9a9a" stroke-width="0.8"/>
<text x="51.30" y="323.20" font-size="5.9" fill="#2a2a2a" text-anchor="end" textLength="5.67" lengthAdjust="spacingAndGlyphs" stroke="#2a2a2a" stroke-width="0.18">40</text>
<line x1="51.70" y1="309.85" x2="54.30" y2="309.85" stroke="#9a9a9a" stroke-width="0.8"/>
<text x="51.30" y="311.95" font-size="5.9" fill="#2a2a2a" text-anchor="end" textLength="5.67" lengthAdjust="spacingAndGlyphs" stroke="#2a2a2a" stroke-width="0.18">50</text>
<line x1="51.70" y1="298.60" x2="54.30" y2="298.60" stroke="#9a9a9a" stroke-width="0.8"/>
<text x="51.30" y="300.70" font-size="5.9" fill="#2a2a2a" text-anchor="end" textLength="5.67" lengthAdjust="spacingAndGlyphs" stroke="#2a2a2a" stroke-width="0.18">60</text>
<line x1="51.70" y1="287.35" x2="54.30" y2="287.35" stroke="#9a9a9a" stroke-width="0.8"/>
<text x="51.30" y="289.45" font-size="5.9" fill="#2a2a2a" text-anchor="end" textLength="5.67" lengthAdjust="spacingAndGlyphs" stroke="#2a2a2a" stroke-width="0.18">70</text>
<line x1="51.70" y1="276.10" x2="54.30" y2="276.10" stroke="#9a9a9a" stroke-width="0.8"/>
<text x="51.30" y="278.20" font-size="5.9" fill="#2a2a2a" text-anchor="end" textLength="5.67" lengthAdjust="spacingAndGlyphs" stroke="#2a2a2a" stroke-width="0.18">80</text>
<line x1="51.70" y1="264.85" x2="54.30" y2="264.85" stroke="#9a9a9a" stroke-width="0.8"/>
<text x="51.30" y="266.95" font-size="5.9" fill="#2a2a2a" text-anchor="end" textLength="5.67" lengthAdjust="spacingAndGlyphs" stroke="#2a2a2a" stroke-width="0.18">90</text>
<line x1="51.70" y1="253.60" x2="54.30" y2="253.60" stroke="#9a9a9a" stroke-width="0.8"/>
<text x="51.30" y="255.70" font-size="5.9" fill="#2a2a2a" text-anchor="end" textLength="8.51" lengthAdjust="spacingAndGlyphs" stroke="#2a2a2a" stroke-width="0.18">100</text>
<line x1="54.50" y1="366.10" x2="526.00" y2="366.10" stroke="#9a9a9a" stroke-width="1.1"/>
<line x1="58.20" y1="366.10" x2="58.20" y2="369.50" stroke="#9a9a9a" stroke-width="0.75"/>
<line x1="65.70" y1="366.10" x2="65.70" y2="368.80" stroke="#9a9a9a" stroke-width="0.75"/>
<line x1="73.20" y1="366.10" x2="73.20" y2="368.80" stroke="#9a9a9a" stroke-width="0.75"/>
<line x1="80.70" y1="366.10" x2="80.70" y2="368.80" stroke="#9a9a9a" stroke-width="0.75"/>
<line x1="88.20" y1="366.10" x2="88.20" y2="368.80" stroke="#9a9a9a" stroke-width="0.75"/>
<line x1="95.70" y1="366.10" x2="95.70" y2="369.50" stroke="#9a9a9a" stroke-width="0.75"/>
<line x1="103.20" y1="366.10" x2="103.20" y2="368.80" stroke="#9a9a9a" stroke-width="0.75"/>
<line x1="110.70" y1="366.10" x2="110.70" y2="368.80" stroke="#9a9a9a" stroke-width="0.75"/>
<line x1="118.20" y1="366.10" x2="118.20" y2="368.80" stroke="#9a9a9a" stroke-width="0.75"/>
<line x1="125.70" y1="366.10" x2="125.70" y2="368.80" stroke="#9a9a9a" stroke-width="0.75"/>
<line x1="133.20" y1="366.10" x2="133.20" y2="369.50" stroke="#9a9a9a" stroke-width="0.75"/>
<line x1="140.70" y1="366.10" x2="140.70" y2="368.80" stroke="#9a9a9a" stroke-width="0.75"/>
<line x1="148.20" y1="366.10" x2="148.20" y2="368.80" stroke="#9a9a9a" stroke-width="0.75"/>
<line x1="155.70" y1="366.10" x2="155.70" y2="368.80" stroke="#9a9a9a" stroke-width="0.75"/>
<line x1="163.20" y1="366.10" x2="163.20" y2="368.80" stroke="#9a9a9a" stroke-width="0.75"/>
<line x1="170.70" y1="366.10" x2="170.70" y2="369.50" stroke="#9a9a9a" stroke-width="0.75"/>
<line x1="178.20" y1="366.10" x2="178.20" y2="368.80" stroke="#9a9a9a" stroke-width="0.75"/>
<line x1="185.70" y1="366.10" x2="185.70" y2="368.80" stroke="#9a9a9a" stroke-width="0.75"/>
<line x1="193.20" y1="366.10" x2="193.20" y2="368.80" stroke="#9a9a9a" stroke-width="0.75"/>
<line x1="200.70" y1="366.10" x2="200.70" y2="368.80" stroke="#9a9a9a" stroke-width="0.75"/>
<line x1="208.20" y1="366.10" x2="208.20" y2="369.50" stroke="#9a9a9a" stroke-width="0.75"/>
<line x1="215.70" y1="366.10" x2="215.70" y2="368.80" stroke="#9a9a9a" stroke-width="0.75"/>
<line x1="223.20" y1="366.10" x2="223.20" y2="368.80" stroke="#9a9a9a" stroke-width="0.75"/>
<line x1="230.70" y1="366.10" x2="230.70" y2="368.80" stroke="#9a9a9a" stroke-width="0.75"/>
<line x1="238.20" y1="366.10" x2="238.20" y2="368.80" stroke="#9a9a9a" stroke-width="0.75"/>
<line x1="245.70" y1="366.10" x2="245.70" y2="369.50" stroke="#9a9a9a" stroke-width="0.75"/>
<line x1="253.20" y1="366.10" x2="253.20" y2="368.80" stroke="#9a9a9a" stroke-width="0.75"/>
<line x1="260.70" y1="366.10" x2="260.70" y2="368.80" stroke="#9a9a9a" stroke-width="0.75"/>
<line x1="268.20" y1="366.10" x2="268.20" y2="368.80" stroke="#9a9a9a" stroke-width="0.75"/>
<line x1="275.70" y1="366.10" x2="275.70" y2="368.80" stroke="#9a9a9a" stroke-width="0.75"/>
<line x1="283.20" y1="366.10" x2="283.20" y2="369.50" stroke="#9a9a9a" stroke-width="0.75"/>
<line x1="290.70" y1="366.10" x2="290.70" y2="368.80" stroke="#9a9a9a" stroke-width="0.75"/>
<line x1="298.20" y1="366.10" x2="298.20" y2="368.80" stroke="#9a9a9a" stroke-width="0.75"/>
<line x1="305.70" y1="366.10" x2="305.70" y2="368.80" stroke="#9a9a9a" stroke-width="0.75"/>
<line x1="313.20" y1="366.10" x2="313.20" y2="368.80" stroke="#9a9a9a" stroke-width="0.75"/>
<line x1="320.70" y1="366.10" x2="320.70" y2="369.50" stroke="#9a9a9a" stroke-width="0.75"/>
<line x1="328.20" y1="366.10" x2="328.20" y2="368.80" stroke="#9a9a9a" stroke-width="0.75"/>
<line x1="335.70" y1="366.10" x2="335.70" y2="368.80" stroke="#9a9a9a" stroke-width="0.75"/>
<line x1="343.20" y1="366.10" x2="343.20" y2="368.80" stroke="#9a9a9a" stroke-width="0.75"/>
<line x1="350.70" y1="366.10" x2="350.70" y2="368.80" stroke="#9a9a9a" stroke-width="0.75"/>
<line x1="358.20" y1="366.10" x2="358.20" y2="369.50" stroke="#9a9a9a" stroke-width="0.75"/>
<line x1="365.70" y1="366.10" x2="365.70" y2="368.80" stroke="#9a9a9a" stroke-width="0.75"/>
<line x1="373.20" y1="366.10" x2="373.20" y2="368.80" stroke="#9a9a9a" stroke-width="0.75"/>
<line x1="380.70" y1="366.10" x2="380.70" y2="368.80" stroke="#9a9a9a" stroke-width="0.75"/>
<line x1="388.20" y1="366.10" x2="388.20" y2="368.80" stroke="#9a9a9a" stroke-width="0.75"/>
<line x1="395.70" y1="366.10" x2="395.70" y2="369.50" stroke="#9a9a9a" stroke-width="0.75"/>
<line x1="403.20" y1="366.10" x2="403.20" y2="368.80" stroke="#9a9a9a" stroke-width="0.75"/>
<line x1="410.70" y1="366.10" x2="410.70" y2="368.80" stroke="#9a9a9a" stroke-width="0.75"/>
<line x1="418.20" y1="366.10" x2="418.20" y2="368.80" stroke="#9a9a9a" stroke-width="0.75"/>
<line x1="425.70" y1="366.10" x2="425.70" y2="368.80" stroke="#9a9a9a" stroke-width="0.75"/>
<line x1="433.20" y1="366.10" x2="433.20" y2="369.50" stroke="#9a9a9a" stroke-width="0.75"/>
<line x1="440.70" y1="366.10" x2="440.70" y2="368.80" stroke="#9a9a9a" stroke-width="0.75"/>
<line x1="448.20" y1="366.10" x2="448.20" y2="368.80" stroke="#9a9a9a" stroke-width="0.75"/>
<line x1="455.70" y1="366.10" x2="455.70" y2="368.80" stroke="#9a9a9a" stroke-width="0.75"/>
<line x1="463.20" y1="366.10" x2="463.20" y2="368.80" stroke="#9a9a9a" stroke-width="0.75"/>
<line x1="470.70" y1="366.10" x2="470.70" y2="369.50" stroke="#9a9a9a" stroke-width="0.75"/>
<line x1="478.20" y1="366.10" x2="478.20" y2="368.80" stroke="#9a9a9a" stroke-width="0.75"/>
<line x1="485.70" y1="366.10" x2="485.70" y2="368.80" stroke="#9a9a9a" stroke-width="0.75"/>
<line x1="493.20" y1="366.10" x2="493.20" y2="368.80" stroke="#9a9a9a" stroke-width="0.75"/>
<line x1="500.70" y1="366.10" x2="500.70" y2="368.80" stroke="#9a9a9a" stroke-width="0.75"/>
<line x1="508.20" y1="366.10" x2="508.20" y2="369.50" stroke="#9a9a9a" stroke-width="0.75"/>
<line x1="515.70" y1="366.10" x2="515.70" y2="368.80" stroke="#9a9a9a" stroke-width="0.75"/>
<line x1="523.20" y1="366.10" x2="523.20" y2="368.80" stroke="#9a9a9a" stroke-width="0.75"/>
<text x="58.20" y="375.60" font-size="5.9" fill="#2a2a2a" text-anchor="middle" textLength="11.46" lengthAdjust="spacingAndGlyphs" stroke="#2a2a2a" stroke-width="0.18">3450</text>
<text x="95.70" y="375.60" font-size="5.9" fill="#2a2a2a" text-anchor="middle" textLength="11.46" lengthAdjust="spacingAndGlyphs" stroke="#2a2a2a" stroke-width="0.18">3500</text>
<text x="133.20" y="375.60" font-size="5.9" fill="#2a2a2a" text-anchor="middle" textLength="11.46" lengthAdjust="spacingAndGlyphs" stroke="#2a2a2a" stroke-width="0.18">3550</text>
<text x="170.70" y="375.60" font-size="5.9" fill="#2a2a2a" text-anchor="middle" textLength="11.46" lengthAdjust="spacingAndGlyphs" stroke="#2a2a2a" stroke-width="0.18">3600</text>
<text x="208.20" y="375.60" font-size="5.9" fill="#2a2a2a" text-anchor="middle" textLength="11.46" lengthAdjust="spacingAndGlyphs" stroke="#2a2a2a" stroke-width="0.18">3650</text>
<text x="245.70" y="375.60" font-size="5.9" fill="#2a2a2a" text-anchor="middle" textLength="11.46" lengthAdjust="spacingAndGlyphs" stroke="#2a2a2a" stroke-width="0.18">3700</text>
<text x="283.20" y="375.60" font-size="5.9" fill="#2a2a2a" text-anchor="middle" textLength="11.46" lengthAdjust="spacingAndGlyphs" stroke="#2a2a2a" stroke-width="0.18">3750</text>
<text x="320.70" y="375.60" font-size="5.9" fill="#2a2a2a" text-anchor="middle" textLength="11.46" lengthAdjust="spacingAndGlyphs" stroke="#2a2a2a" stroke-width="0.18">3800</text>
<text x="358.20" y="375.60" font-size="5.9" fill="#2a2a2a" text-anchor="middle" textLength="11.46" lengthAdjust="spacingAndGlyphs" stroke="#2a2a2a" stroke-width="0.18">3850</text>
<text x="395.70" y="375.60" font-size="5.9" fill="#2a2a2a" text-anchor="middle" textLength="11.46" lengthAdjust="spacingAndGlyphs" stroke="#2a2a2a" stroke-width="0.18">3900</text>
<text x="433.20" y="375.60" font-size="5.9" fill="#2a2a2a" text-anchor="middle" textLength="11.46" lengthAdjust="spacingAndGlyphs" stroke="#2a2a2a" stroke-width="0.18">3950</text>
<text x="470.70" y="375.60" font-size="5.9" fill="#2a2a2a" text-anchor="middle" textLength="11.46" lengthAdjust="spacingAndGlyphs" stroke="#2a2a2a" stroke-width="0.18">4000</text>
<text x="508.20" y="375.60" font-size="5.9" fill="#2a2a2a" text-anchor="middle" textLength="11.46" lengthAdjust="spacingAndGlyphs" stroke="#2a2a2a" stroke-width="0.18">4050</text>
<text x="291.00" y="383.60" font-size="5.6" fill="#222" text-anchor="middle" stroke="#222" stroke-width="0.18">m/z</text>
<text x="0" y="0" font-size="5.9" fill="#333" text-anchor="middle" textLength="52.5" lengthAdjust="spacingAndGlyphs" transform="translate(40.90,309.50) rotate(-90)">Relative Abundance</text>
<text x="308.30" y="259.00" font-size="11.3" fill="#141414" textLength="216.80" lengthAdjust="spacingAndGlyphs">Monoisotopic deconvoluted mass spectrum</text>
<text x="190.30" y="271.60" font-size="8.3" fill="#141414" textLength="42.70" lengthAdjust="spacingAndGlyphs">L-CAP1831</text>
<line x1="240.50" y1="268.50" x2="260.20" y2="268.50" stroke="#222" stroke-width="0.8"/>
<polygon points="258.90,266.70 263.70,268.50 258.90,270.30" fill="#111"/>
<line x1="266.40" y1="253.60" x2="266.40" y2="366.10" stroke="#7c7c7c" stroke-width="1.0"/>
<line x1="267.70" y1="345.30" x2="267.70" y2="366.10" stroke="#7c7c7c" stroke-width="0.9"/>
<line x1="339.60" y1="289.60" x2="339.60" y2="366.10" stroke="#7c7c7c" stroke-width="0.9"/>
<line x1="341.40" y1="355.80" x2="341.40" y2="366.10" stroke="#7c7c7c" stroke-width="0.8"/>
<line x1="351.30" y1="349.30" x2="351.30" y2="366.10" stroke="#7c7c7c" stroke-width="0.9"/>
<line x1="353.20" y1="362.40" x2="353.20" y2="366.10" stroke="#7c7c7c" stroke-width="0.8"/>
<line x1="413.50" y1="355.50" x2="413.50" y2="366.10" stroke="#7c7c7c" stroke-width="0.8"/>
<line x1="437.30" y1="355.50" x2="437.30" y2="366.10" stroke="#7c7c7c" stroke-width="0.8"/>
<line x1="425.60" y1="362.80" x2="425.60" y2="366.10" stroke="#7c7c7c" stroke-width="0.8"/>
<line x1="293.80" y1="364.50" x2="293.80" y2="366.10" stroke="#7c7c7c" stroke-width="0.6"/>
<line x1="367.30" y1="364.30" x2="367.30" y2="366.10" stroke="#7c7c7c" stroke-width="0.6"/>
<line x1="523.00" y1="364.00" x2="523.00" y2="366.10" stroke="#7c7c7c" stroke-width="0.6"/>
<line x1="254.20" y1="364.60" x2="254.20" y2="366.10" stroke="#7c7c7c" stroke-width="0.5"/>
<text x="266.60" y="251.20" font-size="5.2" fill="#222" text-anchor="middle" textLength="23.26" lengthAdjust="spacingAndGlyphs" stroke="#222" stroke-width="0.18">3727.4113</text>
<text x="339.90" y="287.10" font-size="5.2" fill="#222" text-anchor="middle" textLength="23.63" lengthAdjust="spacingAndGlyphs" stroke="#222" stroke-width="0.18">3825.3779</text>
<text x="353.60" y="348.10" font-size="5.2" fill="#222" text-anchor="middle" textLength="23.63" lengthAdjust="spacingAndGlyphs" stroke="#222" stroke-width="0.18">3841.4048</text>
<text x="413.70" y="353.40" font-size="5.2" fill="#222" text-anchor="middle" textLength="23.63" lengthAdjust="spacingAndGlyphs" stroke="#222" stroke-width="0.18">3923.3446</text>
<text x="440.40" y="353.40" font-size="5.2" fill="#222" text-anchor="middle" textLength="23.63" lengthAdjust="spacingAndGlyphs" stroke="#222" stroke-width="0.18">3955.3980</text>
<text x="520.80" y="361.90" font-size="5.2" fill="#222" text-anchor="middle" textLength="23.63" lengthAdjust="spacingAndGlyphs" stroke="#222" stroke-width="0.18">4069.3593</text>
<text x="149.10" y="363.00" font-size="5.2" fill="#222" text-anchor="middle" textLength="23.63" lengthAdjust="spacingAndGlyphs" stroke="#222" stroke-width="0.18">3571.3138</text>
<text x="181.40" y="363.30" font-size="5.2" fill="#222" text-anchor="middle" textLength="23.63" lengthAdjust="spacingAndGlyphs" stroke="#222" stroke-width="0.18">3614.3158</text>
<text x="251.00" y="363.10" font-size="5.2" fill="#222" text-anchor="middle" textLength="23.26" lengthAdjust="spacingAndGlyphs" stroke="#222" stroke-width="0.18">3711.3843</text>
<text x="294.00" y="361.30" font-size="5.2" fill="#222" text-anchor="middle" textLength="23.63" lengthAdjust="spacingAndGlyphs" stroke="#222" stroke-width="0.18">3764.3945</text>
<text x="380.50" y="363.00" font-size="5.2" fill="#222" text-anchor="middle" textLength="23.63" lengthAdjust="spacingAndGlyphs" stroke="#222" stroke-width="0.18">3879.3951</text>
<text x="268.80" y="400.30" font-size="12.6" fill="#111" font-family="Liberation Serif" font-weight="bold">(c)</text>
<text x="9.20" y="414.30" font-size="10.2" fill="#111" textLength="51.10" lengthAdjust="spacingAndGlyphs" font-weight="bold">D-CAP1831</text>
<text x="40.60" y="437.80" font-size="9.2" fill="#2e2ac0" textLength="107.20" lengthAdjust="spacingAndGlyphs" stroke="#2e2ac0" stroke-width="0.2">Z:\Instruments\...\Dcap1831_av100</text>
<text x="266.90" y="437.90" font-size="9.2" fill="#2e2ac0" textLength="54.90" lengthAdjust="spacingAndGlyphs" stroke="#2e2ac0" stroke-width="0.2">12/21/18 15:25:50</text>
<line x1="39.10" y1="450.00" x2="544.70" y2="450.00" stroke="#b4b4b4" stroke-width="1.3"/>
<text x="43.15" y="459.50" font-size="5.9" fill="#2e2ac0" textLength="38.70" lengthAdjust="spacingAndGlyphs" stroke="#2e2ac0" stroke-width="0.18">Dcap1831_av100</text>
<text x="83.15" y="459.50" font-size="5.9" fill="#1a1a1a" textLength="5.49" lengthAdjust="spacingAndGlyphs" stroke="#1a1a1a" stroke-width="0.18">#1</text>
<text x="93.25" y="459.50" font-size="5.9" fill="#1a1a1a" textLength="7.32" lengthAdjust="spacingAndGlyphs" stroke="#1a1a1a" stroke-width="0.18">RT:</text>
<text x="103.45" y="459.50" font-size="5.9" fill="#2e2ac0" textLength="12.35" lengthAdjust="spacingAndGlyphs" stroke="#2e2ac0" stroke-width="0.18">19.21</text>
<text x="119.15" y="459.50" font-size="5.9" fill="#1a1a1a" textLength="7.41" lengthAdjust="spacingAndGlyphs" stroke="#1a1a1a" stroke-width="0.18">AV:</text>
<text x="129.05" y="459.50" font-size="5.9" fill="#2e2ac0" textLength="2.75" lengthAdjust="spacingAndGlyphs" stroke="#2e2ac0" stroke-width="0.18">1</text>
<text x="135.95" y="459.50" font-size="5.9" fill="#1a1a1a" textLength="7.68" lengthAdjust="spacingAndGlyphs" stroke="#1a1a1a" stroke-width="0.18">NL:</text>
<text x="145.15" y="459.50" font-size="5.9" fill="#2e2ac0" textLength="15.65" lengthAdjust="spacingAndGlyphs" stroke="#2e2ac0" stroke-width="0.18">5.67E6</text>
<text x="43.40" y="466.80" font-size="5.9" fill="#1a1a1a" textLength="3.84" lengthAdjust="spacingAndGlyphs" stroke="#1a1a1a" stroke-width="0.18">T:</text>
<text x="49.75" y="466.80" font-size="5.9" fill="#2e2ac0" textLength="88.10" lengthAdjust="spacingAndGlyphs" stroke="#2e2ac0" stroke-width="0.18">FTMS + p NSI Full ms [150.00-2000.00]</text>
<text x="359.60" y="483.90" font-size="11.3" fill="#141414" textLength="76.40" lengthAdjust="spacingAndGlyphs">Mass spectrum</text>
<line x1="61.60" y1="484.40" x2="61.60" y2="597.50" stroke="#9a9a9a" stroke-width="1"/>
<line x1="59.00" y1="597.00" x2="61.60" y2="597.00" stroke="#9a9a9a" stroke-width="0.8"/>
<text x="58.60" y="599.10" font-size="5.9" fill="#2a2a2a" text-anchor="end" textLength="2.84" lengthAdjust="spacingAndGlyphs" stroke="#2a2a2a" stroke-width="0.18">0</text>
<line x1="59.00" y1="585.74" x2="61.60" y2="585.74" stroke="#9a9a9a" stroke-width="0.8"/>
<text x="58.60" y="587.84" font-size="5.9" fill="#2a2a2a" text-anchor="end" textLength="5.67" lengthAdjust="spacingAndGlyphs" stroke="#2a2a2a" stroke-width="0.18">10</text>
<line x1="59.00" y1="574.48" x2="61.60" y2="574.48" stroke="#9a9a9a" stroke-width="0.8"/>
<text x="58.60" y="576.58" font-size="5.9" fill="#2a2a2a" text-anchor="end" textLength="5.67" lengthAdjust="spacingAndGlyphs" stroke="#2a2a2a" stroke-width="0.18">20</text>
<line x1="59.00" y1="563.22" x2="61.60" y2="563.22" stroke="#9a9a9a" stroke-width="0.8"/>
<text x="58.60" y="565.32" font-size="5.9" fill="#2a2a2a" text-anchor="end" textLength="5.67" lengthAdjust="spacingAndGlyphs" stroke="#2a2a2a" stroke-width="0.18">30</text>
<line x1="59.00" y1="551.96" x2="61.60" y2="551.96" stroke="#9a9a9a" stroke-width="0.8"/>
<text x="58.60" y="554.06" font-size="5.9" fill="#2a2a2a" text-anchor="end" textLength="5.67" lengthAdjust="spacingAndGlyphs" stroke="#2a2a2a" stroke-width="0.18">40</text>
<line x1="59.00" y1="540.70" x2="61.60" y2="540.70" stroke="#9a9a9a" stroke-width="0.8"/>
<text x="58.60" y="542.80" font-size="5.9" fill="#2a2a2a" text-anchor="end" textLength="5.67" lengthAdjust="spacingAndGlyphs" stroke="#2a2a2a" stroke-width="0.18">50</text>
<line x1="59.00" y1="529.44" x2="61.60" y2="529.44" stroke="#9a9a9a" stroke-width="0.8"/>
<text x="58.60" y="531.54" font-size="5.9" fill="#2a2a2a" text-anchor="end" textLength="5.67" lengthAdjust="spacingAndGlyphs" stroke="#2a2a2a" stroke-width="0.18">60</text>
<line x1="59.00" y1="518.18" x2="61.60" y2="518.18" stroke="#9a9a9a" stroke-width="0.8"/>
<text x="58.60" y="520.28" font-size="5.9" fill="#2a2a2a" text-anchor="end" textLength="5.67" lengthAdjust="spacingAndGlyphs" stroke="#2a2a2a" stroke-width="0.18">70</text>
<line x1="59.00" y1="506.92" x2="61.60" y2="506.92" stroke="#9a9a9a" stroke-width="0.8"/>
<text x="58.60" y="509.02" font-size="5.9" fill="#2a2a2a" text-anchor="end" textLength="5.67" lengthAdjust="spacingAndGlyphs" stroke="#2a2a2a" stroke-width="0.18">80</text>
<line x1="59.00" y1="495.66" x2="61.60" y2="495.66" stroke="#9a9a9a" stroke-width="0.8"/>
<text x="58.60" y="497.76" font-size="5.9" fill="#2a2a2a" text-anchor="end" textLength="5.67" lengthAdjust="spacingAndGlyphs" stroke="#2a2a2a" stroke-width="0.18">90</text>
<line x1="59.00" y1="484.40" x2="61.60" y2="484.40" stroke="#9a9a9a" stroke-width="0.8"/>
<text x="58.60" y="486.50" font-size="5.9" fill="#2a2a2a" text-anchor="end" textLength="8.51" lengthAdjust="spacingAndGlyphs" stroke="#2a2a2a" stroke-width="0.18">100</text>
<line x1="61.60" y1="597.00" x2="535.80" y2="597.00" stroke="#9a9a9a" stroke-width="1.1"/>
<line x1="64.16" y1="597.00" x2="64.16" y2="599.70" stroke="#9a9a9a" stroke-width="0.75"/>
<line x1="69.29" y1="597.00" x2="69.29" y2="599.70" stroke="#9a9a9a" stroke-width="0.75"/>
<line x1="74.41" y1="597.00" x2="74.41" y2="600.40" stroke="#9a9a9a" stroke-width="0.75"/>
<line x1="79.54" y1="597.00" x2="79.54" y2="599.70" stroke="#9a9a9a" stroke-width="0.75"/>
<line x1="84.67" y1="597.00" x2="84.67" y2="599.70" stroke="#9a9a9a" stroke-width="0.75"/>
<line x1="89.79" y1="597.00" x2="89.79" y2="599.70" stroke="#9a9a9a" stroke-width="0.75"/>
<line x1="94.92" y1="597.00" x2="94.92" y2="599.70" stroke="#9a9a9a" stroke-width="0.75"/>
<line x1="100.04" y1="597.00" x2="100.04" y2="600.40" stroke="#9a9a9a" stroke-width="0.75"/>
<line x1="105.17" y1="597.00" x2="105.17" y2="599.70" stroke="#9a9a9a" stroke-width="0.75"/>
<line x1="110.30" y1="597.00" x2="110.30" y2="599.70" stroke="#9a9a9a" stroke-width="0.75"/>
<line x1="115.42" y1="597.00" x2="115.42" y2="599.70" stroke="#9a9a9a" stroke-width="0.75"/>
<line x1="120.55" y1="597.00" x2="120.55" y2="599.70" stroke="#9a9a9a" stroke-width="0.75"/>
<line x1="125.67" y1="597.00" x2="125.67" y2="600.40" stroke="#9a9a9a" stroke-width="0.75"/>
<line x1="130.80" y1="597.00" x2="130.80" y2="599.70" stroke="#9a9a9a" stroke-width="0.75"/>
<line x1="135.93" y1="597.00" x2="135.93" y2="599.70" stroke="#9a9a9a" stroke-width="0.75"/>
<line x1="141.05" y1="597.00" x2="141.05" y2="599.70" stroke="#9a9a9a" stroke-width="0.75"/>
<line x1="146.18" y1="597.00" x2="146.18" y2="599.70" stroke="#9a9a9a" stroke-width="0.75"/>
<line x1="151.30" y1="597.00" x2="151.30" y2="600.40" stroke="#9a9a9a" stroke-width="0.75"/>
<line x1="156.43" y1="597.00" x2="156.43" y2="599.70" stroke="#9a9a9a" stroke-width="0.75"/>
<line x1="161.56" y1="597.00" x2="161.56" y2="599.70" stroke="#9a9a9a" stroke-width="0.75"/>
<line x1="166.68" y1="597.00" x2="166.68" y2="599.70" stroke="#9a9a9a" stroke-width="0.75"/>
<line x1="171.81" y1="597.00" x2="171.81" y2="599.70" stroke="#9a9a9a" stroke-width="0.75"/>
<line x1="176.94" y1="597.00" x2="176.94" y2="600.40" stroke="#9a9a9a" stroke-width="0.75"/>
<line x1="182.06" y1="597.00" x2="182.06" y2="599.70" stroke="#9a9a9a" stroke-width="0.75"/>
<line x1="187.19" y1="597.00" x2="187.19" y2="599.70" stroke="#9a9a9a" stroke-width="0.75"/>
<line x1="192.31" y1="597.00" x2="192.31" y2="599.70" stroke="#9a9a9a" stroke-width="0.75"/>
<line x1="197.44" y1="597.00" x2="197.44" y2="599.70" stroke="#9a9a9a" stroke-width="0.75"/>
<line x1="202.56" y1="597.00" x2="202.56" y2="600.40" stroke="#9a9a9a" stroke-width="0.75"/>
<line x1="207.69" y1="597.00" x2="207.69" y2="599.70" stroke="#9a9a9a" stroke-width="0.75"/>
<line x1="212.82" y1="597.00" x2="212.82" y2="599.70" stroke="#9a9a9a" stroke-width="0.75"/>
<line x1="217.94" y1="597.00" x2="217.94" y2="599.70" stroke="#9a9a9a" stroke-width="0.75"/>
<line x1="223.07" y1="597.00" x2="223.07" y2="599.70" stroke="#9a9a9a" stroke-width="0.75"/>
<line x1="228.19" y1="597.00" x2="228.19" y2="600.40" stroke="#9a9a9a" stroke-width="0.75"/>
<line x1="233.32" y1="597.00" x2="233.32" y2="599.70" stroke="#9a9a9a" stroke-width="0.75"/>
<line x1="238.45" y1="597.00" x2="238.45" y2="599.70" stroke="#9a9a9a" stroke-width="0.75"/>
<line x1="243.57" y1="597.00" x2="243.57" y2="599.70" stroke="#9a9a9a" stroke-width="0.75"/>
<line x1="248.70" y1="597.00" x2="248.70" y2="599.70" stroke="#9a9a9a" stroke-width="0.75"/>
<line x1="253.82" y1="597.00" x2="253.82" y2="600.40" stroke="#9a9a9a" stroke-width="0.75"/>
<line x1="258.95" y1="597.00" x2="258.95" y2="599.70" stroke="#9a9a9a" stroke-width="0.75"/>
<line x1="264.08" y1="597.00" x2="264.08" y2="599.70" stroke="#9a9a9a" stroke-width="0.75"/>
<line x1="269.20" y1="597.00" x2="269.20" y2="599.70" stroke="#9a9a9a" stroke-width="0.75"/>
<line x1="274.33" y1="597.00" x2="274.33" y2="599.70" stroke="#9a9a9a" stroke-width="0.75"/>
<line x1="279.45" y1="597.00" x2="279.45" y2="600.40" stroke="#9a9a9a" stroke-width="0.75"/>
<line x1="284.58" y1="597.00" x2="284.58" y2="599.70" stroke="#9a9a9a" stroke-width="0.75"/>
<line x1="289.71" y1="597.00" x2="289.71" y2="599.70" stroke="#9a9a9a" stroke-width="0.75"/>
<line x1="294.83" y1="597.00" x2="294.83" y2="599.70" stroke="#9a9a9a" stroke-width="0.75"/>
<line x1="299.96" y1="597.00" x2="299.96" y2="599.70" stroke="#9a9a9a" stroke-width="0.75"/>
<line x1="305.08" y1="597.00" x2="305.08" y2="600.40" stroke="#9a9a9a" stroke-width="0.75"/>
<line x1="310.21" y1="597.00" x2="310.21" y2="599.70" stroke="#9a9a9a" stroke-width="0.75"/>
<line x1="315.34" y1="597.00" x2="315.34" y2="599.70" stroke="#9a9a9a" stroke-width="0.75"/>
<line x1="320.46" y1="597.00" x2="320.46" y2="599.70" stroke="#9a9a9a" stroke-width="0.75"/>
<line x1="325.59" y1="597.00" x2="325.59" y2="599.70" stroke="#9a9a9a" stroke-width="0.75"/>
<line x1="330.71" y1="597.00" x2="330.71" y2="600.40" stroke="#9a9a9a" stroke-width="0.75"/>
<line x1="335.84" y1="597.00" x2="335.84" y2="599.70" stroke="#9a9a9a" stroke-width="0.75"/>
<line x1="340.97" y1="597.00" x2="340.97" y2="599.70" stroke="#9a9a9a" stroke-width="0.75"/>
<line x1="346.09" y1="597.00" x2="346.09" y2="599.70" stroke="#9a9a9a" stroke-width="0.75"/>
<line x1="351.22" y1="597.00" x2="351.22" y2="599.70" stroke="#9a9a9a" stroke-width="0.75"/>
<line x1="356.34" y1="597.00" x2="356.34" y2="600.40" stroke="#9a9a9a" stroke-width="0.75"/>
<line x1="361.47" y1="597.00" x2="361.47" y2="599.70" stroke="#9a9a9a" stroke-width="0.75"/>
<line x1="366.60" y1="597.00" x2="366.60" y2="599.70" stroke="#9a9a9a" stroke-width="0.75"/>
<line x1="371.72" y1="597.00" x2="371.72" y2="599.70" stroke="#9a9a9a" stroke-width="0.75"/>
<line x1="376.85" y1="597.00" x2="376.85" y2="599.70" stroke="#9a9a9a" stroke-width="0.75"/>
<line x1="381.97" y1="597.00" x2="381.97" y2="600.40" stroke="#9a9a9a" stroke-width="0.75"/>
<line x1="387.10" y1="597.00" x2="387.10" y2="599.70" stroke="#9a9a9a" stroke-width="0.75"/>
<line x1="392.23" y1="597.00" x2="392.23" y2="599.70" stroke="#9a9a9a" stroke-width="0.75"/>
<line x1="397.35" y1="597.00" x2="397.35" y2="599.70" stroke="#9a9a9a" stroke-width="0.75"/>
<line x1="402.48" y1="597.00" x2="402.48" y2="599.70" stroke="#9a9a9a" stroke-width="0.75"/>
<line x1="407.60" y1="597.00" x2="407.60" y2="600.40" stroke="#9a9a9a" stroke-width="0.75"/>
<line x1="412.73" y1="597.00" x2="412.73" y2="599.70" stroke="#9a9a9a" stroke-width="0.75"/>
<line x1="417.86" y1="597.00" x2="417.86" y2="599.70" stroke="#9a9a9a" stroke-width="0.75"/>
<line x1="422.98" y1="597.00" x2="422.98" y2="599.70" stroke="#9a9a9a" stroke-width="0.75"/>
<line x1="428.11" y1="597.00" x2="428.11" y2="599.70" stroke="#9a9a9a" stroke-width="0.75"/>
<line x1="433.23" y1="597.00" x2="433.23" y2="600.40" stroke="#9a9a9a" stroke-width="0.75"/>
<line x1="438.36" y1="597.00" x2="438.36" y2="599.70" stroke="#9a9a9a" stroke-width="0.75"/>
<line x1="443.49" y1="597.00" x2="443.49" y2="599.70" stroke="#9a9a9a" stroke-width="0.75"/>
<line x1="448.61" y1="597.00" x2="448.61" y2="599.70" stroke="#9a9a9a" stroke-width="0.75"/>
<line x1="453.74" y1="597.00" x2="453.74" y2="599.70" stroke="#9a9a9a" stroke-width="0.75"/>
<line x1="458.86" y1="597.00" x2="458.86" y2="600.40" stroke="#9a9a9a" stroke-width="0.75"/>
<line x1="463.99" y1="597.00" x2="463.99" y2="599.70" stroke="#9a9a9a" stroke-width="0.75"/>
<line x1="469.12" y1="597.00" x2="469.12" y2="599.70" stroke="#9a9a9a" stroke-width="0.75"/>
<line x1="474.24" y1="597.00" x2="474.24" y2="599.70" stroke="#9a9a9a" stroke-width="0.75"/>
<line x1="479.37" y1="597.00" x2="479.37" y2="599.70" stroke="#9a9a9a" stroke-width="0.75"/>
<line x1="484.50" y1="597.00" x2="484.50" y2="600.40" stroke="#9a9a9a" stroke-width="0.75"/>
<line x1="489.62" y1="597.00" x2="489.62" y2="599.70" stroke="#9a9a9a" stroke-width="0.75"/>
<line x1="494.75" y1="597.00" x2="494.75" y2="599.70" stroke="#9a9a9a" stroke-width="0.75"/>
<line x1="499.87" y1="597.00" x2="499.87" y2="599.70" stroke="#9a9a9a" stroke-width="0.75"/>
<line x1="505.00" y1="597.00" x2="505.00" y2="599.70" stroke="#9a9a9a" stroke-width="0.75"/>
<line x1="510.12" y1="597.00" x2="510.12" y2="600.40" stroke="#9a9a9a" stroke-width="0.75"/>
<line x1="515.25" y1="597.00" x2="515.25" y2="599.70" stroke="#9a9a9a" stroke-width="0.75"/>
<line x1="520.38" y1="597.00" x2="520.38" y2="599.70" stroke="#9a9a9a" stroke-width="0.75"/>
<line x1="525.50" y1="597.00" x2="525.50" y2="599.70" stroke="#9a9a9a" stroke-width="0.75"/>
<line x1="530.63" y1="597.00" x2="530.63" y2="599.70" stroke="#9a9a9a" stroke-width="0.75"/>
<line x1="535.75" y1="597.00" x2="535.75" y2="600.40" stroke="#9a9a9a" stroke-width="0.75"/>
<text x="74.41" y="606.40" font-size="5.9" fill="#2a2a2a" text-anchor="middle" textLength="8.59" lengthAdjust="spacingAndGlyphs" stroke="#2a2a2a" stroke-width="0.18">200</text>
<text x="100.04" y="606.40" font-size="5.9" fill="#2a2a2a" text-anchor="middle" textLength="8.59" lengthAdjust="spacingAndGlyphs" stroke="#2a2a2a" stroke-width="0.18">300</text>
<text x="125.67" y="606.40" font-size="5.9" fill="#2a2a2a" text-anchor="middle" textLength="8.59" lengthAdjust="spacingAndGlyphs" stroke="#2a2a2a" stroke-width="0.18">400</text>
<text x="151.30" y="606.40" font-size="5.9" fill="#2a2a2a" text-anchor="middle" textLength="8.59" lengthAdjust="spacingAndGlyphs" stroke="#2a2a2a" stroke-width="0.18">500</text>
<text x="176.94" y="606.40" font-size="5.9" fill="#2a2a2a" text-anchor="middle" textLength="8.59" lengthAdjust="spacingAndGlyphs" stroke="#2a2a2a" stroke-width="0.18">600</text>
<text x="202.56" y="606.40" font-size="5.9" fill="#2a2a2a" text-anchor="middle" textLength="8.59" lengthAdjust="spacingAndGlyphs" stroke="#2a2a2a" stroke-width="0.18">700</text>
<text x="228.19" y="606.40" font-size="5.9" fill="#2a2a2a" text-anchor="middle" textLength="8.59" lengthAdjust="spacingAndGlyphs" stroke="#2a2a2a" stroke-width="0.18">800</text>
<text x="253.82" y="606.40" font-size="5.9" fill="#2a2a2a" text-anchor="middle" textLength="8.59" lengthAdjust="spacingAndGlyphs" stroke="#2a2a2a" stroke-width="0.18">900</text>
<text x="279.45" y="606.40" font-size="5.9" fill="#2a2a2a" text-anchor="middle" textLength="11.46" lengthAdjust="spacingAndGlyphs" stroke="#2a2a2a" stroke-width="0.18">1000</text>
<text x="305.08" y="606.40" font-size="5.9" fill="#2a2a2a" text-anchor="middle" textLength="11.07" lengthAdjust="spacingAndGlyphs" stroke="#2a2a2a" stroke-width="0.18">1100</text>
<text x="330.71" y="606.40" font-size="5.9" fill="#2a2a2a" text-anchor="middle" textLength="11.46" lengthAdjust="spacingAndGlyphs" stroke="#2a2a2a" stroke-width="0.18">1200</text>
<text x="356.34" y="606.40" font-size="5.9" fill="#2a2a2a" text-anchor="middle" textLength="11.46" lengthAdjust="spacingAndGlyphs" stroke="#2a2a2a" stroke-width="0.18">1300</text>
<text x="381.97" y="606.40" font-size="5.9" fill="#2a2a2a" text-anchor="middle" textLength="11.46" lengthAdjust="spacingAndGlyphs" stroke="#2a2a2a" stroke-width="0.18">1400</text>
<text x="407.60" y="606.40" font-size="5.9" fill="#2a2a2a" text-anchor="middle" textLength="11.46" lengthAdjust="spacingAndGlyphs" stroke="#2a2a2a" stroke-width="0.18">1500</text>
<text x="433.23" y="606.40" font-size="5.9" fill="#2a2a2a" text-anchor="middle" textLength="11.46" lengthAdjust="spacingAndGlyphs" stroke="#2a2a2a" stroke-width="0.18">1600</text>
<text x="458.86" y="606.40" font-size="5.9" fill="#2a2a2a" text-anchor="middle" textLength="11.46" lengthAdjust="spacingAndGlyphs" stroke="#2a2a2a" stroke-width="0.18">1700</text>
<text x="484.50" y="606.40" font-size="5.9" fill="#2a2a2a" text-anchor="middle" textLength="11.46" lengthAdjust="spacingAndGlyphs" stroke="#2a2a2a" stroke-width="0.18">1800</text>
<text x="510.12" y="606.40" font-size="5.9" fill="#2a2a2a" text-anchor="middle" textLength="11.46" lengthAdjust="spacingAndGlyphs" stroke="#2a2a2a" stroke-width="0.18">1900</text>
<text x="535.75" y="606.40" font-size="5.9" fill="#2a2a2a" text-anchor="middle" textLength="11.46" lengthAdjust="spacingAndGlyphs" stroke="#2a2a2a" stroke-width="0.18">2000</text>
<text x="299.00" y="615.00" font-size="5.6" fill="#222" text-anchor="middle" stroke="#222" stroke-width="0.18">m/z</text>
<text x="0" y="0" font-size="5.9" fill="#333" text-anchor="middle" textLength="52.5" lengthAdjust="spacingAndGlyphs" transform="translate(48.10,540.50) rotate(-90)">Relative Abundance</text>
<line x1="186.50" y1="581.20" x2="192.20" y2="580.20" stroke="#a6d8a6" stroke-width="0.8"/>
<line x1="214.50" y1="581.80" x2="217.60" y2="579.90" stroke="#a6d8a6" stroke-width="0.8"/>
<line x1="81.10" y1="594.80" x2="81.10" y2="597.00" stroke="#7c7c7c" stroke-width="0.6"/>
<line x1="102.20" y1="592.00" x2="102.20" y2="597.00" stroke="#7c7c7c" stroke-width="0.8"/>
<line x1="114.50" y1="593.70" x2="114.50" y2="597.00" stroke="#7c7c7c" stroke-width="0.7"/>
<line x1="129.10" y1="591.70" x2="129.10" y2="597.00" stroke="#7c7c7c" stroke-width="0.8"/>
<line x1="142.40" y1="484.40" x2="142.40" y2="597.00" stroke="#7c7c7c" stroke-width="1.1"/>
<line x1="145.90" y1="589.20" x2="145.90" y2="597.00" stroke="#7c7c7c" stroke-width="0.9"/>
<line x1="155.50" y1="594.30" x2="155.50" y2="597.00" stroke="#7c7c7c" stroke-width="0.7"/>
<line x1="159.60" y1="521.20" x2="159.60" y2="597.00" stroke="#7c7c7c" stroke-width="1.1"/>
<line x1="163.30" y1="577.10" x2="163.30" y2="597.00" stroke="#7c7c7c" stroke-width="1.0"/>
<line x1="182.30" y1="561.20" x2="182.30" y2="597.00" stroke="#7c7c7c" stroke-width="1.0"/>
<line x1="182.90" y1="575.00" x2="182.90" y2="597.00" stroke="#7c7c7c" stroke-width="1.0"/>
<line x1="186.40" y1="581.70" x2="186.40" y2="597.00" stroke="#7c7c7c" stroke-width="0.9"/>
<line x1="187.30" y1="591.90" x2="187.30" y2="597.00" stroke="#7c7c7c" stroke-width="0.9"/>
<line x1="214.40" y1="582.40" x2="214.40" y2="597.00" stroke="#7c7c7c" stroke-width="0.9"/>
<line x1="216.30" y1="593.20" x2="216.30" y2="597.00" stroke="#7c7c7c" stroke-width="0.7"/>
<line x1="219.50" y1="584.90" x2="219.50" y2="597.00" stroke="#7c7c7c" stroke-width="0.9"/>
<line x1="225.80" y1="593.20" x2="225.80" y2="597.00" stroke="#7c7c7c" stroke-width="0.7"/>
<line x1="261.80" y1="594.50" x2="261.80" y2="597.00" stroke="#7c7c7c" stroke-width="0.9"/>
<line x1="263.50" y1="595.30" x2="263.50" y2="597.00" stroke="#7c7c7c" stroke-width="0.7"/>
<text x="78.30" y="587.00" font-size="5.2" fill="#222" text-anchor="middle" textLength="20.85" lengthAdjust="spacingAndGlyphs" stroke="#222" stroke-width="0.18">226.1549</text>
<text x="78.00" y="594.30" font-size="5.2" fill="#222" text-anchor="middle" stroke="#222" stroke-width="0.18">z=?</text>
<text x="102.40" y="581.90" font-size="5.2" fill="#222" text-anchor="middle" textLength="20.85" lengthAdjust="spacingAndGlyphs" stroke="#222" stroke-width="0.18">308.9748</text>
<text x="102.20" y="590.10" font-size="5.2" fill="#222" text-anchor="middle" stroke="#222" stroke-width="0.18">z=1</text>
<text x="129.70" y="581.10" font-size="5.2" fill="#222" text-anchor="middle" textLength="20.85" lengthAdjust="spacingAndGlyphs" stroke="#222" stroke-width="0.18">415.3870</text>
<text x="128.40" y="588.80" font-size="5.2" fill="#222" text-anchor="middle" stroke="#222" stroke-width="0.18">z=9</text>
<text x="143.00" y="474.20" font-size="5.2" fill="#222" text-anchor="middle" textLength="20.85" lengthAdjust="spacingAndGlyphs" stroke="#222" stroke-width="0.18">467.1844</text>
<text x="143.00" y="481.70" font-size="5.2" fill="#222" text-anchor="middle" stroke="#222" stroke-width="0.18">z=8</text>
<text x="159.50" y="510.90" font-size="5.2" fill="#222" text-anchor="middle" textLength="20.48" lengthAdjust="spacingAndGlyphs" stroke="#222" stroke-width="0.18">533.7811</text>
<text x="159.70" y="518.50" font-size="5.2" fill="#222" text-anchor="middle" stroke="#222" stroke-width="0.18">z=7</text>
<text x="182.30" y="551.50" font-size="5.2" fill="#222" text-anchor="middle" textLength="20.85" lengthAdjust="spacingAndGlyphs" stroke="#222" stroke-width="0.18">622.5766</text>
<text x="181.50" y="559.70" font-size="5.2" fill="#222" text-anchor="middle" stroke="#222" stroke-width="0.18">z=6</text>
<text x="195.40" y="572.20" font-size="5.2" fill="#222" text-anchor="middle" textLength="20.85" lengthAdjust="spacingAndGlyphs" stroke="#222" stroke-width="0.18">638.9044</text>
<text x="194.00" y="579.60" font-size="5.2" fill="#222" text-anchor="middle" stroke="#222" stroke-width="0.18">z=6</text>
<text x="220.50" y="572.20" font-size="5.2" fill="#222" text-anchor="middle" textLength="20.85" lengthAdjust="spacingAndGlyphs" stroke="#222" stroke-width="0.18">746.8904</text>
<text x="218.40" y="579.60" font-size="5.2" fill="#222" text-anchor="middle" stroke="#222" stroke-width="0.18">z=5</text>
<text x="262.00" y="584.10" font-size="5.2" fill="#222" text-anchor="middle" textLength="20.85" lengthAdjust="spacingAndGlyphs" stroke="#222" stroke-width="0.18">933.1093</text>
<text x="260.90" y="591.30" font-size="5.2" fill="#222" text-anchor="middle" stroke="#222" stroke-width="0.18">z=4</text>
<text x="286.10" y="586.00" font-size="5.2" fill="#222" text-anchor="middle" textLength="20.85" lengthAdjust="spacingAndGlyphs" stroke="#222" stroke-width="0.18">999.3507</text>
<text x="286.40" y="594.00" font-size="5.2" fill="#222" text-anchor="middle" stroke="#222" stroke-width="0.18">z=?</text>
<text x="312.00" y="586.00" font-size="5.2" fill="#222" text-anchor="middle" textLength="23.63" lengthAdjust="spacingAndGlyphs" stroke="#222" stroke-width="0.18">1093.0904</text>
<text x="310.90" y="594.00" font-size="5.2" fill="#222" text-anchor="middle" stroke="#222" stroke-width="0.18">z=?</text>
<text x="342.00" y="586.10" font-size="5.2" fill="#222" text-anchor="middle" textLength="23.63" lengthAdjust="spacingAndGlyphs" stroke="#222" stroke-width="0.18">1244.1433</text>
<text x="342.10" y="594.00" font-size="5.2" fill="#222" text-anchor="middle" stroke="#222" stroke-width="0.18">z=?</text>
<text x="374.10" y="586.10" font-size="5.2" fill="#222" text-anchor="middle" textLength="23.63" lengthAdjust="spacingAndGlyphs" stroke="#222" stroke-width="0.18">1368.2253</text>
<text x="374.00" y="594.00" font-size="5.2" fill="#222" text-anchor="middle" stroke="#222" stroke-width="0.18">z=?</text>
<text x="420.30" y="586.70" font-size="5.2" fill="#222" text-anchor="middle" textLength="23.63" lengthAdjust="spacingAndGlyphs" stroke="#222" stroke-width="0.18">1559.1297</text>
<text x="420.10" y="593.90" font-size="5.2" fill="#222" text-anchor="middle" stroke="#222" stroke-width="0.18">z=?</text>
<text x="447.20" y="586.70" font-size="5.2" fill="#222" text-anchor="middle" textLength="23.63" lengthAdjust="spacingAndGlyphs" stroke="#222" stroke-width="0.18">1653.3812</text>
<text x="445.20" y="593.90" font-size="5.2" fill="#222" text-anchor="middle" stroke="#222" stroke-width="0.18">z=?</text>
<text x="480.00" y="587.20" font-size="5.2" fill="#222" text-anchor="middle" textLength="23.63" lengthAdjust="spacingAndGlyphs" stroke="#222" stroke-width="0.18">1780.1078</text>
<text x="480.00" y="594.30" font-size="5.2" fill="#222" text-anchor="middle" stroke="#222" stroke-width="0.18">z=?</text>
<text x="517.50" y="587.20" font-size="5.2" fill="#222" text-anchor="middle" textLength="23.63" lengthAdjust="spacingAndGlyphs" stroke="#222" stroke-width="0.18">1927.8086</text>
<text x="517.50" y="594.30" font-size="5.2" fill="#222" text-anchor="middle" stroke="#222" stroke-width="0.18">z=?</text>
<line x1="39.50" y1="623.80" x2="544.30" y2="623.80" stroke="#b4b4b4" stroke-width="1.3"/>
<text x="42.95" y="633.70" font-size="5.9" fill="#2e2ac0" textLength="75.10" lengthAdjust="spacingAndGlyphs" stroke="#2e2ac0" stroke-width="0.18">Dcap1831_av100_XT_00001_M_</text>
<text x="119.65" y="633.70" font-size="5.9" fill="#1a1a1a" textLength="5.59" lengthAdjust="spacingAndGlyphs" stroke="#1a1a1a" stroke-width="0.18">#2</text>
<text x="128.25" y="633.70" font-size="5.9" fill="#1a1a1a" textLength="7.44" lengthAdjust="spacingAndGlyphs" stroke="#1a1a1a" stroke-width="0.18">RT:</text>
<text x="138.45" y="633.70" font-size="5.9" fill="#2e2ac0" textLength="9.77" lengthAdjust="spacingAndGlyphs" stroke="#2e2ac0" stroke-width="0.18">2.00</text>
<text x="152.85" y="633.70" font-size="5.9" fill="#1a1a1a" textLength="7.54" lengthAdjust="spacingAndGlyphs" stroke="#1a1a1a" stroke-width="0.18">AV:</text>
<text x="162.05" y="633.70" font-size="5.9" fill="#2e2ac0" textLength="2.79" lengthAdjust="spacingAndGlyphs" stroke="#2e2ac0" stroke-width="0.18">1</text>
<text x="169.15" y="633.70" font-size="5.9" fill="#1a1a1a" textLength="7.81" lengthAdjust="spacingAndGlyphs" stroke="#1a1a1a" stroke-width="0.18">NL:</text>
<text x="178.75" y="633.70" font-size="5.9" fill="#2e2ac0" textLength="15.92" lengthAdjust="spacingAndGlyphs" stroke="#2e2ac0" stroke-width="0.18">6.70E6</text>
<text x="43.10" y="641.00" font-size="5.9" fill="#1a1a1a" textLength="3.91" lengthAdjust="spacingAndGlyphs" stroke="#1a1a1a" stroke-width="0.18">T:</text>
<text x="49.65" y="641.00" font-size="5.9" fill="#2e2ac0" textLength="88.40" lengthAdjust="spacingAndGlyphs" stroke="#2e2ac0" stroke-width="0.18">FTMS + p NSI Full ms [150.00-2000.00]</text>
<text x="315.90" y="663.30" font-size="11.3" fill="#141414" textLength="218.10" lengthAdjust="spacingAndGlyphs">Monoisotopic deconvoluted mass spectrum</text>
<text x="146.90" y="675.50" font-size="8.3" fill="#141414" textLength="44.40" lengthAdjust="spacingAndGlyphs">D-CAP1831</text>
<line x1="197.30" y1="672.60" x2="216.50" y2="672.60" stroke="#222" stroke-width="0.8"/>
<polygon points="215.20,670.80 220.00,672.60 215.20,674.40" fill="#111"/>
<line x1="61.50" y1="658.00" x2="61.50" y2="770.90" stroke="#9a9a9a" stroke-width="1"/>
<line x1="58.90" y1="770.40" x2="61.50" y2="770.40" stroke="#9a9a9a" stroke-width="0.8"/>
<text x="58.50" y="772.50" font-size="5.9" fill="#2a2a2a" text-anchor="end" textLength="2.84" lengthAdjust="spacingAndGlyphs" stroke="#2a2a2a" stroke-width="0.18">0</text>
<line x1="58.90" y1="759.16" x2="61.50" y2="759.16" stroke="#9a9a9a" stroke-width="0.8"/>
<text x="58.50" y="761.26" font-size="5.9" fill="#2a2a2a" text-anchor="end" textLength="5.67" lengthAdjust="spacingAndGlyphs" stroke="#2a2a2a" stroke-width="0.18">10</text>
<line x1="58.90" y1="747.92" x2="61.50" y2="747.92" stroke="#9a9a9a" stroke-width="0.8"/>
<text x="58.50" y="750.02" font-size="5.9" fill="#2a2a2a" text-anchor="end" textLength="5.67" lengthAdjust="spacingAndGlyphs" stroke="#2a2a2a" stroke-width="0.18">20</text>
<line x1="58.90" y1="736.68" x2="61.50" y2="736.68" stroke="#9a9a9a" stroke-width="0.8"/>
<text x="58.50" y="738.78" font-size="5.9" fill="#2a2a2a" text-anchor="end" textLength="5.67" lengthAdjust="spacingAndGlyphs" stroke="#2a2a2a" stroke-width="0.18">30</text>
<line x1="58.90" y1="725.44" x2="61.50" y2="725.44" stroke="#9a9a9a" stroke-width="0.8"/>
<text x="58.50" y="727.54" font-size="5.9" fill="#2a2a2a" text-anchor="end" textLength="5.67" lengthAdjust="spacingAndGlyphs" stroke="#2a2a2a" stroke-width="0.18">40</text>
<line x1="58.90" y1="714.20" x2="61.50" y2="714.20" stroke="#9a9a9a" stroke-width="0.8"/>
<text x="58.50" y="716.30" font-size="5.9" fill="#2a2a2a" text-anchor="end" textLength="5.67" lengthAdjust="spacingAndGlyphs" stroke="#2a2a2a" stroke-width="0.18">50</text>
<line x1="58.90" y1="702.96" x2="61.50" y2="702.96" stroke="#9a9a9a" stroke-width="0.8"/>
<text x="58.50" y="705.06" font-size="5.9" fill="#2a2a2a" text-anchor="end" textLength="5.67" lengthAdjust="spacingAndGlyphs" stroke="#2a2a2a" stroke-width="0.18">60</text>
<line x1="58.90" y1="691.72" x2="61.50" y2="691.72" stroke="#9a9a9a" stroke-width="0.8"/>
<text x="58.50" y="693.82" font-size="5.9" fill="#2a2a2a" text-anchor="end" textLength="5.67" lengthAdjust="spacingAndGlyphs" stroke="#2a2a2a" stroke-width="0.18">70</text>
<line x1="58.90" y1="680.48" x2="61.50" y2="680.48" stroke="#9a9a9a" stroke-width="0.8"/>
<text x="58.50" y="682.58" font-size="5.9" fill="#2a2a2a" text-anchor="end" textLength="5.67" lengthAdjust="spacingAndGlyphs" stroke="#2a2a2a" stroke-width="0.18">80</text>
<line x1="58.90" y1="669.24" x2="61.50" y2="669.24" stroke="#9a9a9a" stroke-width="0.8"/>
<text x="58.50" y="671.34" font-size="5.9" fill="#2a2a2a" text-anchor="end" textLength="5.67" lengthAdjust="spacingAndGlyphs" stroke="#2a2a2a" stroke-width="0.18">90</text>
<line x1="58.90" y1="658.00" x2="61.50" y2="658.00" stroke="#9a9a9a" stroke-width="0.8"/>
<text x="58.50" y="660.10" font-size="5.9" fill="#2a2a2a" text-anchor="end" textLength="8.51" lengthAdjust="spacingAndGlyphs" stroke="#2a2a2a" stroke-width="0.18">100</text>
<line x1="61.50" y1="770.40" x2="535.20" y2="770.40" stroke="#9a9a9a" stroke-width="1.1"/>
<line x1="65.78" y1="770.40" x2="65.78" y2="773.10" stroke="#9a9a9a" stroke-width="0.75"/>
<line x1="71.66" y1="770.40" x2="71.66" y2="773.10" stroke="#9a9a9a" stroke-width="0.75"/>
<line x1="77.54" y1="770.40" x2="77.54" y2="773.10" stroke="#9a9a9a" stroke-width="0.75"/>
<line x1="83.42" y1="770.40" x2="83.42" y2="773.10" stroke="#9a9a9a" stroke-width="0.75"/>
<line x1="89.30" y1="770.40" x2="89.30" y2="773.80" stroke="#9a9a9a" stroke-width="0.75"/>
<line x1="95.18" y1="770.40" x2="95.18" y2="773.10" stroke="#9a9a9a" stroke-width="0.75"/>
<line x1="101.06" y1="770.40" x2="101.06" y2="773.10" stroke="#9a9a9a" stroke-width="0.75"/>
<line x1="106.94" y1="770.40" x2="106.94" y2="773.10" stroke="#9a9a9a" stroke-width="0.75"/>
<line x1="112.82" y1="770.40" x2="112.82" y2="773.10" stroke="#9a9a9a" stroke-width="0.75"/>
<line x1="118.70" y1="770.40" x2="118.70" y2="773.80" stroke="#9a9a9a" stroke-width="0.75"/>
<line x1="124.59" y1="770.40" x2="124.59" y2="773.10" stroke="#9a9a9a" stroke-width="0.75"/>
<line x1="130.47" y1="770.40" x2="130.47" y2="773.10" stroke="#9a9a9a" stroke-width="0.75"/>
<line x1="136.35" y1="770.40" x2="136.35" y2="773.10" stroke="#9a9a9a" stroke-width="0.75"/>
<line x1="142.23" y1="770.40" x2="142.23" y2="773.10" stroke="#9a9a9a" stroke-width="0.75"/>
<line x1="148.11" y1="770.40" x2="148.11" y2="773.80" stroke="#9a9a9a" stroke-width="0.75"/>
<line x1="153.99" y1="770.40" x2="153.99" y2="773.10" stroke="#9a9a9a" stroke-width="0.75"/>
<line x1="159.87" y1="770.40" x2="159.87" y2="773.10" stroke="#9a9a9a" stroke-width="0.75"/>
<line x1="165.75" y1="770.40" x2="165.75" y2="773.10" stroke="#9a9a9a" stroke-width="0.75"/>
<line x1="171.63" y1="770.40" x2="171.63" y2="773.10" stroke="#9a9a9a" stroke-width="0.75"/>
<line x1="177.51" y1="770.40" x2="177.51" y2="773.80" stroke="#9a9a9a" stroke-width="0.75"/>
<line x1="183.40" y1="770.40" x2="183.40" y2="773.10" stroke="#9a9a9a" stroke-width="0.75"/>
<line x1="189.28" y1="770.40" x2="189.28" y2="773.10" stroke="#9a9a9a" stroke-width="0.75"/>
<line x1="195.16" y1="770.40" x2="195.16" y2="773.10" stroke="#9a9a9a" stroke-width="0.75"/>
<line x1="201.04" y1="770.40" x2="201.04" y2="773.10" stroke="#9a9a9a" stroke-width="0.75"/>
<line x1="206.92" y1="770.40" x2="206.92" y2="773.80" stroke="#9a9a9a" stroke-width="0.75"/>
<line x1="212.80" y1="770.40" x2="212.80" y2="773.10" stroke="#9a9a9a" stroke-width="0.75"/>
<line x1="218.68" y1="770.40" x2="218.68" y2="773.10" stroke="#9a9a9a" stroke-width="0.75"/>
<line x1="224.56" y1="770.40" x2="224.56" y2="773.10" stroke="#9a9a9a" stroke-width="0.75"/>
<line x1="230.44" y1="770.40" x2="230.44" y2="773.10" stroke="#9a9a9a" stroke-width="0.75"/>
<line x1="236.32" y1="770.40" x2="236.32" y2="773.80" stroke="#9a9a9a" stroke-width="0.75"/>
<line x1="242.21" y1="770.40" x2="242.21" y2="773.10" stroke="#9a9a9a" stroke-width="0.75"/>
<line x1="248.09" y1="770.40" x2="248.09" y2="773.10" stroke="#9a9a9a" stroke-width="0.75"/>
<line x1="253.97" y1="770.40" x2="253.97" y2="773.10" stroke="#9a9a9a" stroke-width="0.75"/>
<line x1="259.85" y1="770.40" x2="259.85" y2="773.10" stroke="#9a9a9a" stroke-width="0.75"/>
<line x1="265.73" y1="770.40" x2="265.73" y2="773.80" stroke="#9a9a9a" stroke-width="0.75"/>
<line x1="271.61" y1="770.40" x2="271.61" y2="773.10" stroke="#9a9a9a" stroke-width="0.75"/>
<line x1="277.49" y1="770.40" x2="277.49" y2="773.10" stroke="#9a9a9a" stroke-width="0.75"/>
<line x1="283.37" y1="770.40" x2="283.37" y2="773.10" stroke="#9a9a9a" stroke-width="0.75"/>
<line x1="289.25" y1="770.40" x2="289.25" y2="773.10" stroke="#9a9a9a" stroke-width="0.75"/>
<line x1="295.13" y1="770.40" x2="295.13" y2="773.80" stroke="#9a9a9a" stroke-width="0.75"/>
<line x1="301.02" y1="770.40" x2="301.02" y2="773.10" stroke="#9a9a9a" stroke-width="0.75"/>
<line x1="306.90" y1="770.40" x2="306.90" y2="773.10" stroke="#9a9a9a" stroke-width="0.75"/>
<line x1="312.78" y1="770.40" x2="312.78" y2="773.10" stroke="#9a9a9a" stroke-width="0.75"/>
<line x1="318.66" y1="770.40" x2="318.66" y2="773.10" stroke="#9a9a9a" stroke-width="0.75"/>
<line x1="324.54" y1="770.40" x2="324.54" y2="773.80" stroke="#9a9a9a" stroke-width="0.75"/>
<line x1="330.42" y1="770.40" x2="330.42" y2="773.10" stroke="#9a9a9a" stroke-width="0.75"/>
<line x1="336.30" y1="770.40" x2="336.30" y2="773.10" stroke="#9a9a9a" stroke-width="0.75"/>
<line x1="342.18" y1="770.40" x2="342.18" y2="773.10" stroke="#9a9a9a" stroke-width="0.75"/>
<line x1="348.06" y1="770.40" x2="348.06" y2="773.10" stroke="#9a9a9a" stroke-width="0.75"/>
<line x1="353.94" y1="770.40" x2="353.94" y2="773.80" stroke="#9a9a9a" stroke-width="0.75"/>
<line x1="359.83" y1="770.40" x2="359.83" y2="773.10" stroke="#9a9a9a" stroke-width="0.75"/>
<line x1="365.71" y1="770.40" x2="365.71" y2="773.10" stroke="#9a9a9a" stroke-width="0.75"/>
<line x1="371.59" y1="770.40" x2="371.59" y2="773.10" stroke="#9a9a9a" stroke-width="0.75"/>
<line x1="377.47" y1="770.40" x2="377.47" y2="773.10" stroke="#9a9a9a" stroke-width="0.75"/>
<line x1="383.35" y1="770.40" x2="383.35" y2="773.80" stroke="#9a9a9a" stroke-width="0.75"/>
<line x1="389.23" y1="770.40" x2="389.23" y2="773.10" stroke="#9a9a9a" stroke-width="0.75"/>
<line x1="395.11" y1="770.40" x2="395.11" y2="773.10" stroke="#9a9a9a" stroke-width="0.75"/>
<line x1="400.99" y1="770.40" x2="400.99" y2="773.10" stroke="#9a9a9a" stroke-width="0.75"/>
<line x1="406.87" y1="770.40" x2="406.87" y2="773.10" stroke="#9a9a9a" stroke-width="0.75"/>
<line x1="412.75" y1="770.40" x2="412.75" y2="773.80" stroke="#9a9a9a" stroke-width="0.75"/>
<line x1="418.64" y1="770.40" x2="418.64" y2="773.10" stroke="#9a9a9a" stroke-width="0.75"/>
<line x1="424.52" y1="770.40" x2="424.52" y2="773.10" stroke="#9a9a9a" stroke-width="0.75"/>
<line x1="430.40" y1="770.40" x2="430.40" y2="773.10" stroke="#9a9a9a" stroke-width="0.75"/>
<line x1="436.28" y1="770.40" x2="436.28" y2="773.10" stroke="#9a9a9a" stroke-width="0.75"/>
<line x1="442.16" y1="770.40" x2="442.16" y2="773.80" stroke="#9a9a9a" stroke-width="0.75"/>
<line x1="448.04" y1="770.40" x2="448.04" y2="773.10" stroke="#9a9a9a" stroke-width="0.75"/>
<line x1="453.92" y1="770.40" x2="453.92" y2="773.10" stroke="#9a9a9a" stroke-width="0.75"/>
<line x1="459.80" y1="770.40" x2="459.80" y2="773.10" stroke="#9a9a9a" stroke-width="0.75"/>
<line x1="465.68" y1="770.40" x2="465.68" y2="773.10" stroke="#9a9a9a" stroke-width="0.75"/>
<line x1="471.56" y1="770.40" x2="471.56" y2="773.80" stroke="#9a9a9a" stroke-width="0.75"/>
<line x1="477.45" y1="770.40" x2="477.45" y2="773.10" stroke="#9a9a9a" stroke-width="0.75"/>
<line x1="483.33" y1="770.40" x2="483.33" y2="773.10" stroke="#9a9a9a" stroke-width="0.75"/>
<line x1="489.21" y1="770.40" x2="489.21" y2="773.10" stroke="#9a9a9a" stroke-width="0.75"/>
<line x1="495.09" y1="770.40" x2="495.09" y2="773.10" stroke="#9a9a9a" stroke-width="0.75"/>
<line x1="500.97" y1="770.40" x2="500.97" y2="773.80" stroke="#9a9a9a" stroke-width="0.75"/>
<line x1="506.85" y1="770.40" x2="506.85" y2="773.10" stroke="#9a9a9a" stroke-width="0.75"/>
<line x1="512.73" y1="770.40" x2="512.73" y2="773.10" stroke="#9a9a9a" stroke-width="0.75"/>
<line x1="518.61" y1="770.40" x2="518.61" y2="773.10" stroke="#9a9a9a" stroke-width="0.75"/>
<line x1="524.49" y1="770.40" x2="524.49" y2="773.10" stroke="#9a9a9a" stroke-width="0.75"/>
<line x1="530.38" y1="770.40" x2="530.38" y2="773.80" stroke="#9a9a9a" stroke-width="0.75"/>
<text x="89.30" y="780.20" font-size="5.9" fill="#2a2a2a" text-anchor="middle" textLength="11.46" lengthAdjust="spacingAndGlyphs" stroke="#2a2a2a" stroke-width="0.18">3500</text>
<text x="118.70" y="780.20" font-size="5.9" fill="#2a2a2a" text-anchor="middle" textLength="11.46" lengthAdjust="spacingAndGlyphs" stroke="#2a2a2a" stroke-width="0.18">3550</text>
<text x="148.11" y="780.20" font-size="5.9" fill="#2a2a2a" text-anchor="middle" textLength="11.46" lengthAdjust="spacingAndGlyphs" stroke="#2a2a2a" stroke-width="0.18">3600</text>
<text x="177.51" y="780.20" font-size="5.9" fill="#2a2a2a" text-anchor="middle" textLength="11.46" lengthAdjust="spacingAndGlyphs" stroke="#2a2a2a" stroke-width="0.18">3650</text>
<text x="206.92" y="780.20" font-size="5.9" fill="#2a2a2a" text-anchor="middle" textLength="11.46" lengthAdjust="spacingAndGlyphs" stroke="#2a2a2a" stroke-width="0.18">3700</text>
<text x="236.32" y="780.20" font-size="5.9" fill="#2a2a2a" text-anchor="middle" textLength="11.46" lengthAdjust="spacingAndGlyphs" stroke="#2a2a2a" stroke-width="0.18">3750</text>
<text x="265.73" y="780.20" font-size="5.9" fill="#2a2a2a" text-anchor="middle" textLength="11.46" lengthAdjust="spacingAndGlyphs" stroke="#2a2a2a" stroke-width="0.18">3800</text>
<text x="295.13" y="780.20" font-size="5.9" fill="#2a2a2a" text-anchor="middle" textLength="11.46" lengthAdjust="spacingAndGlyphs" stroke="#2a2a2a" stroke-width="0.18">3850</text>
<text x="324.54" y="780.20" font-size="5.9" fill="#2a2a2a" text-anchor="middle" textLength="11.46" lengthAdjust="spacingAndGlyphs" stroke="#2a2a2a" stroke-width="0.18">3900</text>
<text x="353.94" y="780.20" font-size="5.9" fill="#2a2a2a" text-anchor="middle" textLength="11.46" lengthAdjust="spacingAndGlyphs" stroke="#2a2a2a" stroke-width="0.18">3950</text>
<text x="383.35" y="780.20" font-size="5.9" fill="#2a2a2a" text-anchor="middle" textLength="11.46" lengthAdjust="spacingAndGlyphs" stroke="#2a2a2a" stroke-width="0.18">4000</text>
<text x="412.75" y="780.20" font-size="5.9" fill="#2a2a2a" text-anchor="middle" textLength="11.46" lengthAdjust="spacingAndGlyphs" stroke="#2a2a2a" stroke-width="0.18">4050</text>
<text x="442.16" y="780.20" font-size="5.9" fill="#2a2a2a" text-anchor="middle" textLength="11.46" lengthAdjust="spacingAndGlyphs" stroke="#2a2a2a" stroke-width="0.18">4100</text>
<text x="471.56" y="780.20" font-size="5.9" fill="#2a2a2a" text-anchor="middle" textLength="11.46" lengthAdjust="spacingAndGlyphs" stroke="#2a2a2a" stroke-width="0.18">4150</text>
<text x="500.97" y="780.20" font-size="5.9" fill="#2a2a2a" text-anchor="middle" textLength="11.46" lengthAdjust="spacingAndGlyphs" stroke="#2a2a2a" stroke-width="0.18">4200</text>
<text x="530.38" y="780.20" font-size="5.9" fill="#2a2a2a" text-anchor="middle" textLength="11.46" lengthAdjust="spacingAndGlyphs" stroke="#2a2a2a" stroke-width="0.18">4250</text>
<text x="299.00" y="788.60" font-size="5.6" fill="#222" text-anchor="middle" stroke="#222" stroke-width="0.18">m/z</text>
<text x="0" y="0" font-size="5.9" fill="#333" text-anchor="middle" textLength="52.5" lengthAdjust="spacingAndGlyphs" transform="translate(47.90,714.00) rotate(-90)">Relative Abundance</text>
<line x1="289.60" y1="764.00" x2="292.40" y2="762.60" stroke="#a6d8a6" stroke-width="0.8"/>
<line x1="222.70" y1="658.00" x2="222.70" y2="770.40" stroke="#7c7c7c" stroke-width="1.0"/>
<line x1="280.70" y1="741.00" x2="280.70" y2="770.40" stroke="#7c7c7c" stroke-width="0.9"/>
<line x1="243.60" y1="762.30" x2="243.60" y2="770.40" stroke="#7c7c7c" stroke-width="0.8"/>
<line x1="289.60" y1="764.00" x2="289.60" y2="770.40" stroke="#7c7c7c" stroke-width="0.8"/>
<line x1="147.00" y1="767.20" x2="147.00" y2="770.40" stroke="#7c7c7c" stroke-width="0.6"/>
<line x1="204.80" y1="767.50" x2="204.80" y2="770.40" stroke="#7c7c7c" stroke-width="0.6"/>
<line x1="333.30" y1="767.00" x2="333.30" y2="770.40" stroke="#7c7c7c" stroke-width="0.6"/>
<line x1="355.90" y1="767.00" x2="355.90" y2="770.40" stroke="#7c7c7c" stroke-width="0.6"/>
<line x1="462.70" y1="768.20" x2="462.70" y2="770.40" stroke="#7c7c7c" stroke-width="0.6"/>
<line x1="404.80" y1="768.50" x2="404.80" y2="770.40" stroke="#7c7c7c" stroke-width="0.5"/>
<line x1="513.10" y1="768.50" x2="513.10" y2="770.40" stroke="#7c7c7c" stroke-width="0.5"/>
<text x="222.90" y="655.10" font-size="5.2" fill="#222" text-anchor="middle" textLength="23.63" lengthAdjust="spacingAndGlyphs" stroke="#222" stroke-width="0.18">3727.4106</text>
<text x="280.70" y="738.30" font-size="5.2" fill="#222" text-anchor="middle" textLength="23.63" lengthAdjust="spacingAndGlyphs" stroke="#222" stroke-width="0.18">3825.3776</text>
<text x="243.60" y="760.10" font-size="5.2" fill="#222" text-anchor="middle" textLength="23.63" lengthAdjust="spacingAndGlyphs" stroke="#222" stroke-width="0.18">3763.3867</text>
<text x="294.50" y="761.90" font-size="5.2" fill="#222" text-anchor="middle" textLength="23.63" lengthAdjust="spacingAndGlyphs" stroke="#222" stroke-width="0.18">3841.4040</text>
<text x="145.80" y="767.60" font-size="5.2" fill="#222" text-anchor="middle" textLength="23.63" lengthAdjust="spacingAndGlyphs" stroke="#222" stroke-width="0.18">3596.3170</text>
<text x="204.70" y="767.60" font-size="5.2" fill="#222" text-anchor="middle" textLength="23.63" lengthAdjust="spacingAndGlyphs" stroke="#222" stroke-width="0.18">3696.3605</text>
<text x="329.20" y="765.60" font-size="5.2" fill="#222" text-anchor="middle" textLength="23.63" lengthAdjust="spacingAndGlyphs" stroke="#222" stroke-width="0.18">3915.4227</text>
<text x="356.80" y="765.60" font-size="5.2" fill="#222" text-anchor="middle" textLength="23.63" lengthAdjust="spacingAndGlyphs" stroke="#222" stroke-width="0.18">3955.3957</text>
<text x="405.00" y="767.80" font-size="5.2" fill="#222" text-anchor="middle" textLength="23.63" lengthAdjust="spacingAndGlyphs" stroke="#222" stroke-width="0.18">4036.5154</text>
<text x="463.00" y="765.30" font-size="5.2" fill="#222" text-anchor="middle" textLength="23.63" lengthAdjust="spacingAndGlyphs" stroke="#222" stroke-width="0.18">4135.5937</text>
<text x="513.10" y="767.60" font-size="5.2" fill="#222" text-anchor="middle" textLength="23.63" lengthAdjust="spacingAndGlyphs" stroke="#222" stroke-width="0.18">4220.6775</text>
<text x="267.60" y="804.60" font-size="12.6" fill="#111" font-family="Liberation Serif" font-weight="bold">(d)</text>
</svg>
</body></html>
